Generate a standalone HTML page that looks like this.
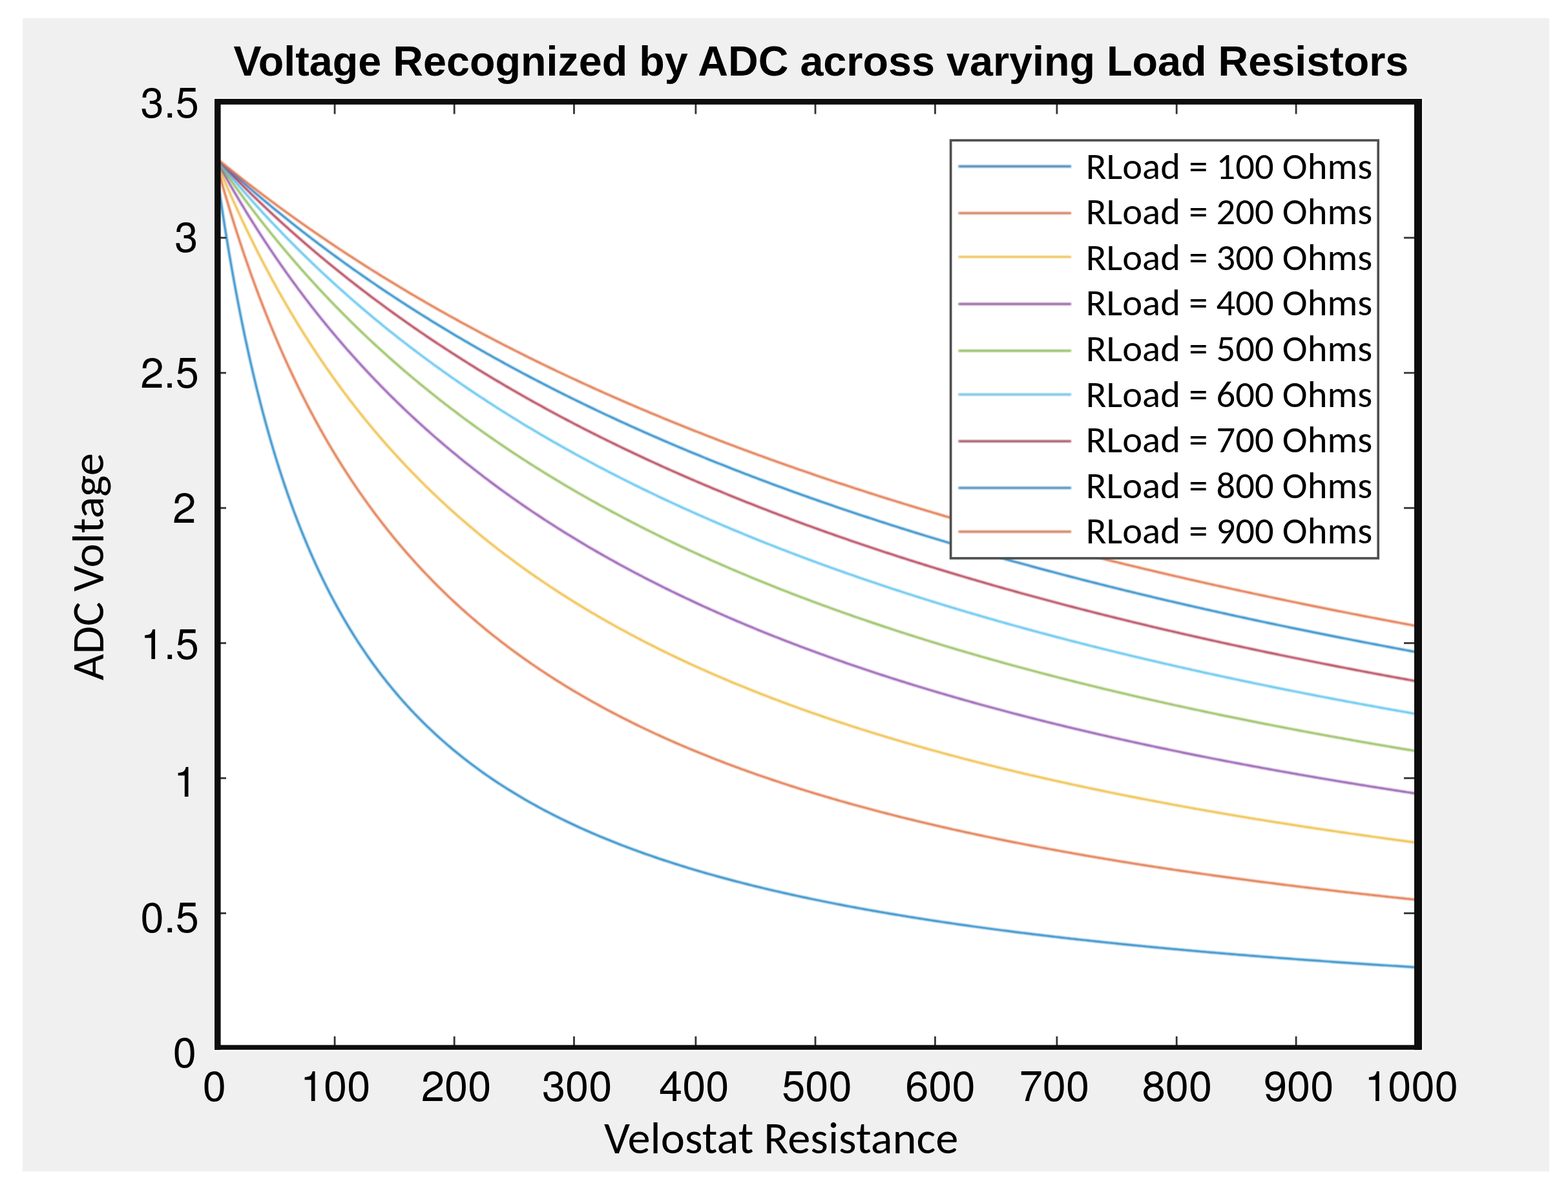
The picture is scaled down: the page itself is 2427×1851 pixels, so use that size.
<!DOCTYPE html>
<html><head><meta charset="utf-8"><title>Voltage Recognized by ADC across varying Load Resistors</title>
<style>
html,body{margin:0;padding:0;background:#fff;overflow:hidden;}
svg{display:block;}
.tk{font-family:"TeX Gyre Heros","Liberation Sans",Arial,Helvetica,sans-serif;font-size:65px;fill:#000;}
.ttl{font-family:"Liberation Sans",Arial,Helvetica,sans-serif;font-weight:bold;font-size:64.7px;fill:#000;}
.lab{font-family:Carlito,Calibri,"Liberation Sans",sans-serif;font-size:71px;font-size-adjust:cap-height 0.632;fill:#000;}
.lg{font-family:Carlito,Calibri,"Liberation Sans",sans-serif;font-size:58px;font-size-adjust:cap-height 0.632;fill:#000;}
</style></head>
<body>
<svg width="2427" height="1851" viewBox="0 0 2427 1851">
<defs>
<clipPath id="ax"><rect x="332" y="153" width="1869" height="1472"/></clipPath>
<filter id="soft" x="-1%" y="-1%" width="102%" height="102%"><feGaussianBlur stdDeviation="0.85"/></filter>
</defs>
<rect x="0" y="0" width="2427" height="1851" fill="#ffffff"/>
<rect x="35" y="28" width="2363" height="1785" fill="#f0f0f0"/>
<text class="ttl" x="1270.9" y="116.5" text-anchor="middle">Voltage Recognized by ADC across varying Load Resistors</text>
<rect x="330.5" y="151.5" width="1872" height="1475" fill="#ffffff"/>
<g clip-path="url(#ax)"><g fill="none" stroke-width="3.2" stroke-linejoin="round" stroke-linecap="butt" filter="url(#soft)">
<path d="M332.10,242.57 L332.57,246.01 L333.03,249.44 L333.50,252.84 L333.96,256.23 L334.43,259.61 L334.89,262.97 L335.36,266.31 L335.82,269.63 L336.29,272.94 L336.75,276.23 L337.22,279.50 L337.68,282.76 L338.15,286.01 L338.61,289.24 L339.08,292.45 L339.54,295.65 L340.01,298.83 L340.47,301.99 L340.94,305.15 L341.40,308.28 L341.87,311.40 L342.33,314.51 L342.80,317.60 L343.26,320.68 L343.73,323.74 L344.19,326.79 L344.66,329.83 L345.12,332.85 L345.59,335.85 L346.05,338.85 L346.52,341.82 L346.98,344.79 L347.45,347.74 L347.91,350.68 L348.38,353.60 L348.84,356.51 L349.31,359.41 L349.77,362.29 L350.24,365.16 L350.70,368.02 L351.17,370.86 L351.63,373.70 L352.10,376.52 L352.56,379.32 L353.03,382.12 L353.49,384.90 L353.96,387.67 L354.42,390.42 L354.89,393.17 L355.36,395.90 L355.82,398.62 L356.29,401.32 L356.75,404.02 L357.22,406.70 L357.68,409.38 L358.15,412.04 L358.61,414.69 L359.08,417.32 L359.54,419.95 L360.01,422.56 L360.47,425.17 L360.94,427.76 L361.40,430.34 L361.87,432.91 L362.33,435.47 L362.80,438.01 L363.26,440.55 L363.73,443.07 L364.19,445.59 L364.66,448.09 L365.12,450.59 L365.59,453.07 L366.05,455.54 L366.52,458.00 L366.98,460.46 L367.45,462.90 L367.91,465.33 L368.38,467.75 L368.84,470.16 L369.31,472.56 L370.24,477.33 L371.17,482.06 L372.10,486.76 L373.03,491.41 L373.96,496.03 L374.89,500.61 L375.82,505.15 L376.75,509.65 L377.68,514.12 L378.61,518.56 L379.54,522.96 L380.47,527.32 L381.40,531.65 L382.33,535.94 L383.26,540.20 L384.19,544.43 L385.12,548.63 L386.05,552.79 L386.98,556.92 L387.91,561.02 L388.84,565.08 L389.77,569.12 L390.70,573.13 L391.63,577.10 L392.56,581.04 L393.49,584.96 L394.42,588.85 L395.35,592.70 L396.28,596.53 L397.21,600.33 L398.14,604.10 L399.07,607.85 L400.00,611.56 L400.93,615.25 L401.87,618.92 L402.80,622.55 L403.73,626.16 L404.66,629.75 L405.59,633.30 L406.52,636.84 L407.45,640.34 L408.38,643.83 L409.31,647.29 L410.24,650.72 L411.17,654.13 L412.10,657.52 L413.03,660.88 L413.96,664.22 L414.89,667.53 L415.82,670.83 L416.75,674.10 L417.68,677.34 L418.61,680.57 L419.54,683.77 L420.47,686.96 L421.40,690.12 L422.33,693.26 L423.26,696.37 L424.19,699.47 L425.12,702.55 L426.05,705.60 L426.98,708.64 L427.91,711.66 L428.84,714.65 L429.77,717.63 L430.70,720.59 L431.63,723.52 L432.56,726.44 L433.49,729.34 L434.42,732.22 L435.35,735.09 L436.28,737.93 L437.21,740.76 L438.14,743.56 L439.07,746.36 L440.00,749.13 L440.93,751.88 L441.86,754.62 L442.79,757.34 L443.72,760.04 L444.65,762.73 L445.58,765.40 L446.51,768.06 L447.44,770.69 L448.38,773.31 L449.31,775.92 L450.24,778.51 L451.17,781.08 L452.10,783.64 L453.03,786.18 L453.96,788.71 L454.89,791.22 L455.82,793.71 L456.75,796.20 L457.68,798.66 L458.61,801.11 L459.54,803.55 L460.47,805.97 L461.40,808.38 L462.33,810.78 L463.26,813.16 L464.19,815.52 L465.12,817.88 L466.05,820.22 L466.98,822.54 L467.91,824.85 L468.84,827.15 L469.77,829.44 L470.70,831.71 L471.63,833.97 L472.56,836.22 L473.49,838.45 L474.42,840.67 L475.35,842.88 L476.28,845.08 L477.21,847.26 L478.14,849.43 L479.07,851.59 L480.00,853.74 L480.93,855.87 L481.86,858.00 L482.79,860.11 L483.72,862.21 L484.65,864.30 L485.58,866.38 L486.51,868.44 L487.44,870.50 L488.37,872.54 L489.30,874.57 L490.23,876.59 L491.16,878.60 L492.09,880.60 L493.02,882.59 L493.95,884.57 L494.88,886.54 L495.82,888.50 L496.75,890.44 L497.68,892.38 L498.61,894.31 L499.54,896.22 L500.47,898.13 L501.40,900.02 L502.33,901.91 L503.26,903.79 L504.19,905.65 L505.12,907.51 L506.05,909.36 L506.98,911.20 L507.91,913.03 L508.84,914.84 L509.77,916.65 L510.70,918.46 L511.63,920.25 L512.56,922.03 L513.49,923.80 L514.42,925.57 L515.35,927.32 L516.28,929.07 L517.21,930.81 L518.14,932.54 L521.86,939.37 L525.58,946.06 L529.30,952.63 L533.02,959.07 L536.74,965.39 L540.46,971.59 L544.19,977.67 L547.91,983.64 L551.63,989.51 L555.35,995.26 L559.07,1000.91 L562.79,1006.46 L566.51,1011.91 L570.23,1017.27 L573.95,1022.53 L577.67,1027.70 L581.39,1032.79 L585.11,1037.78 L588.84,1042.70 L592.56,1047.53 L596.28,1052.28 L600.00,1056.96 L603.72,1061.55 L607.44,1066.08 L611.16,1070.53 L614.88,1074.91 L618.60,1079.22 L622.32,1083.47 L626.04,1087.64 L629.76,1091.76 L633.48,1095.81 L637.21,1099.80 L640.93,1103.73 L644.65,1107.60 L648.37,1111.42 L652.09,1115.17 L655.81,1118.88 L659.53,1122.53 L663.25,1126.12 L666.97,1129.67 L670.69,1133.16 L674.41,1136.61 L678.13,1140.01 L681.86,1143.36 L685.58,1146.66 L689.30,1149.92 L693.02,1153.14 L696.74,1156.31 L700.46,1159.44 L704.18,1162.52 L707.90,1165.57 L711.62,1168.58 L715.34,1171.54 L719.06,1174.47 L722.78,1177.36 L726.50,1180.22 L730.23,1183.03 L733.95,1185.81 L737.67,1188.56 L741.39,1191.27 L745.11,1193.95 L748.83,1196.60 L752.55,1199.21 L756.27,1201.79 L759.99,1204.34 L763.71,1206.86 L767.43,1209.35 L771.15,1211.81 L774.88,1214.24 L778.60,1216.64 L782.32,1219.01 L786.04,1221.36 L789.76,1223.68 L793.48,1225.97 L797.20,1228.23 L800.92,1230.47 L804.64,1232.69 L808.36,1234.88 L812.08,1237.05 L815.80,1239.19 L819.52,1241.30 L823.25,1243.40 L826.97,1245.47 L830.69,1247.52 L834.41,1249.55 L838.13,1251.55 L841.85,1253.54 L845.57,1255.50 L849.29,1257.44 L853.01,1259.36 L856.73,1261.26 L860.45,1263.14 L864.17,1265.01 L867.90,1266.85 L871.62,1268.67 L875.34,1270.48 L879.06,1272.26 L882.78,1274.03 L886.50,1275.78 L890.22,1277.52 L893.94,1279.23 L897.66,1280.93 L901.38,1282.62 L905.10,1284.28 L908.82,1285.93 L912.54,1287.57 L916.27,1289.18 L919.99,1290.79 L923.71,1292.37 L927.43,1293.95 L931.15,1295.50 L934.87,1297.05 L938.59,1298.57 L942.31,1300.09 L946.03,1301.59 L949.75,1303.07 L953.47,1304.54 L957.19,1306.00 L960.92,1307.45 L964.64,1308.88 L968.36,1310.30 L972.08,1311.71 L975.80,1313.10 L979.52,1314.48 L983.24,1315.85 L986.96,1317.21 L990.68,1318.55 L994.40,1319.88 L998.12,1321.21 L1001.84,1322.52 L1005.56,1323.81 L1009.29,1325.10 L1013.01,1326.38 L1016.73,1327.64 L1020.45,1328.90 L1024.17,1330.14 L1027.89,1331.38 L1031.61,1332.60 L1035.33,1333.81 L1039.05,1335.01 L1042.77,1336.21 L1046.49,1337.39 L1050.21,1338.56 L1053.94,1339.73 L1057.66,1340.88 L1061.38,1342.03 L1065.10,1343.16 L1068.82,1344.29 L1072.54,1345.41 L1076.26,1346.51 L1079.98,1347.61 L1083.70,1348.70 L1087.42,1349.79 L1091.14,1350.86 L1094.86,1351.93 L1098.58,1352.98 L1102.31,1354.03 L1106.03,1355.07 L1109.75,1356.10 L1113.47,1357.13 L1117.19,1358.15 L1120.91,1359.15 L1124.63,1360.16 L1128.35,1361.15 L1132.07,1362.14 L1135.79,1363.12 L1139.51,1364.09 L1143.23,1365.05 L1146.96,1366.01 L1150.68,1366.96 L1154.40,1367.90 L1158.12,1368.84 L1161.84,1369.77 L1165.56,1370.69 L1169.28,1371.60 L1173.00,1372.51 L1176.72,1373.42 L1180.44,1374.31 L1184.16,1375.20 L1187.88,1376.08 L1191.60,1376.96 L1195.33,1377.83 L1199.05,1378.70 L1202.77,1379.55 L1206.49,1380.41 L1210.21,1381.25 L1213.93,1382.09 L1217.65,1382.93 L1221.37,1383.76 L1225.09,1384.58 L1228.81,1385.40 L1232.53,1386.21 L1236.25,1387.02 L1239.98,1387.82 L1243.70,1388.61 L1247.42,1389.40 L1251.14,1390.19 L1254.86,1390.97 L1258.58,1391.74 L1262.30,1392.51 L1266.02,1393.28 L1269.74,1394.04 L1273.46,1394.79 L1277.18,1395.54 L1280.90,1396.28 L1284.62,1397.02 L1288.35,1397.76 L1292.07,1398.49 L1295.79,1399.21 L1299.51,1399.93 L1303.23,1400.65 L1306.95,1401.36 L1310.67,1402.06 L1314.39,1402.77 L1318.11,1403.46 L1321.83,1404.16 L1325.55,1404.85 L1329.27,1405.53 L1333.00,1406.21 L1336.72,1406.89 L1340.44,1407.56 L1344.16,1408.23 L1347.88,1408.89 L1351.60,1409.55 L1355.32,1410.20 L1359.04,1410.85 L1362.76,1411.50 L1366.48,1412.15 L1370.20,1412.78 L1373.92,1413.42 L1377.64,1414.05 L1381.37,1414.68 L1385.09,1415.30 L1388.81,1415.92 L1392.53,1416.54 L1396.25,1417.15 L1399.97,1417.76 L1403.69,1418.37 L1407.41,1418.97 L1411.13,1419.57 L1414.85,1420.16 L1418.57,1420.76 L1422.29,1421.34 L1426.02,1421.93 L1429.74,1422.51 L1433.46,1423.09 L1437.18,1423.66 L1440.90,1424.23 L1444.62,1424.80 L1448.34,1425.37 L1452.06,1425.93 L1455.78,1426.49 L1459.50,1427.04 L1463.22,1427.59 L1466.94,1428.14 L1470.66,1428.69 L1474.39,1429.23 L1478.11,1429.77 L1481.83,1430.31 L1485.55,1430.84 L1489.27,1431.37 L1492.99,1431.90 L1496.71,1432.43 L1500.43,1432.95 L1504.15,1433.47 L1507.87,1433.99 L1511.59,1434.50 L1515.31,1435.01 L1519.04,1435.52 L1522.76,1436.02 L1526.48,1436.53 L1530.20,1437.03 L1533.92,1437.52 L1537.64,1438.02 L1541.36,1438.51 L1545.08,1439.00 L1548.80,1439.49 L1552.52,1439.97 L1556.24,1440.45 L1559.96,1440.93 L1563.68,1441.41 L1567.41,1441.88 L1571.13,1442.35 L1574.85,1442.82 L1578.57,1443.29 L1582.29,1443.75 L1586.01,1444.21 L1589.73,1444.67 L1593.45,1445.13 L1597.17,1445.59 L1600.89,1446.04 L1604.61,1446.49 L1608.33,1446.94 L1612.06,1447.38 L1615.78,1447.83 L1619.50,1448.27 L1623.22,1448.71 L1626.94,1449.14 L1630.66,1449.58 L1634.38,1450.01 L1638.10,1450.44 L1641.82,1450.87 L1645.54,1451.29 L1649.26,1451.72 L1652.98,1452.14 L1656.70,1452.56 L1660.43,1452.98 L1664.15,1453.39 L1667.87,1453.80 L1671.59,1454.22 L1675.31,1454.63 L1679.03,1455.03 L1682.75,1455.44 L1686.47,1455.84 L1690.19,1456.24 L1693.91,1456.64 L1697.63,1457.04 L1701.35,1457.44 L1705.08,1457.83 L1708.80,1458.22 L1712.52,1458.61 L1716.24,1459.00 L1719.96,1459.39 L1723.68,1459.77 L1727.40,1460.16 L1731.12,1460.54 L1734.84,1460.92 L1738.56,1461.29 L1742.28,1461.67 L1746.00,1462.04 L1749.72,1462.42 L1753.45,1462.79 L1757.17,1463.15 L1760.89,1463.52 L1764.61,1463.89 L1768.33,1464.25 L1772.05,1464.61 L1775.77,1464.97 L1779.49,1465.33 L1783.21,1465.69 L1786.93,1466.05 L1790.65,1466.40 L1794.37,1466.75 L1798.10,1467.10 L1801.82,1467.45 L1805.54,1467.80 L1809.26,1468.15 L1812.98,1468.49 L1816.70,1468.83 L1820.42,1469.17 L1824.14,1469.51 L1827.86,1469.85 L1831.58,1470.19 L1835.30,1470.53 L1839.02,1470.86 L1842.74,1471.19 L1846.47,1471.52 L1850.19,1471.85 L1853.91,1472.18 L1857.63,1472.51 L1861.35,1472.83 L1865.07,1473.16 L1868.79,1473.48 L1872.51,1473.80 L1876.23,1474.12 L1879.95,1474.44 L1883.67,1474.76 L1887.39,1475.07 L1891.12,1475.39 L1894.84,1475.70 L1898.56,1476.01 L1902.28,1476.32 L1906.00,1476.63 L1909.72,1476.94 L1913.44,1477.24 L1917.16,1477.55 L1920.88,1477.85 L1924.60,1478.16 L1928.32,1478.46 L1932.04,1478.76 L1935.76,1479.06 L1939.49,1479.35 L1943.21,1479.65 L1946.93,1479.95 L1950.65,1480.24 L1954.37,1480.53 L1958.09,1480.82 L1961.81,1481.11 L1965.53,1481.40 L1969.25,1481.69 L1972.97,1481.98 L1976.69,1482.26 L1980.41,1482.55 L1984.14,1482.83 L1987.86,1483.11 L1991.58,1483.39 L1995.30,1483.67 L1999.02,1483.95 L2002.74,1484.23 L2006.46,1484.51 L2010.18,1484.78 L2013.90,1485.06 L2017.62,1485.33 L2021.34,1485.60 L2025.06,1485.87 L2028.78,1486.14 L2032.51,1486.41 L2036.23,1486.68 L2039.95,1486.95 L2043.67,1487.21 L2047.39,1487.48 L2051.11,1487.74 L2054.83,1488.00 L2058.55,1488.27 L2062.27,1488.53 L2065.99,1488.79 L2069.71,1489.04 L2073.43,1489.30 L2077.16,1489.56 L2080.88,1489.81 L2084.60,1490.07 L2088.32,1490.32 L2092.04,1490.58 L2095.76,1490.83 L2099.48,1491.08 L2103.20,1491.33 L2106.92,1491.58 L2110.64,1491.83 L2114.36,1492.07 L2118.08,1492.32 L2121.80,1492.56 L2125.53,1492.81 L2129.25,1493.05 L2132.97,1493.29 L2136.69,1493.53 L2140.41,1493.78 L2144.13,1494.02 L2147.85,1494.25 L2151.57,1494.49 L2155.29,1494.73 L2159.01,1494.97 L2162.73,1495.20 L2166.45,1495.43 L2170.18,1495.67 L2173.90,1495.90 L2177.62,1496.13 L2181.34,1496.36 L2185.06,1496.59 L2188.78,1496.82 L2192.50,1497.05" stroke="#1F83C5"/>
<path d="M332.10,242.57 L332.57,244.29 L333.03,246.01 L333.50,247.73 L333.96,249.44 L334.43,251.14 L334.89,252.84 L335.36,254.54 L335.82,256.23 L336.29,257.92 L336.75,259.61 L337.22,261.29 L337.68,262.97 L338.15,264.64 L338.61,266.31 L339.08,267.97 L339.54,269.63 L340.01,271.29 L340.47,272.94 L340.94,274.58 L341.40,276.23 L341.87,277.87 L342.33,279.50 L342.80,281.14 L343.26,282.76 L343.73,284.39 L344.19,286.01 L344.66,287.62 L345.12,289.24 L345.59,290.84 L346.05,292.45 L346.52,294.05 L346.98,295.65 L347.45,297.24 L347.91,298.83 L348.38,300.41 L348.84,301.99 L349.31,303.57 L349.77,305.15 L350.24,306.72 L350.70,308.28 L351.17,309.85 L351.63,311.40 L352.10,312.96 L352.56,314.51 L353.03,316.06 L353.49,317.60 L353.96,319.14 L354.42,320.68 L354.89,322.21 L355.36,323.74 L355.82,325.27 L356.29,326.79 L356.75,328.31 L357.22,329.83 L357.68,331.34 L358.15,332.85 L358.61,334.35 L359.08,335.85 L359.54,337.35 L360.01,338.85 L360.47,340.34 L360.94,341.82 L361.40,343.31 L361.87,344.79 L362.33,346.27 L362.80,347.74 L363.26,349.21 L363.73,350.68 L364.19,352.14 L364.66,353.60 L365.12,355.06 L365.59,356.51 L366.05,357.96 L366.52,359.41 L366.98,360.85 L367.45,362.29 L367.91,363.73 L368.38,365.16 L368.84,366.59 L369.31,368.02 L370.24,370.86 L371.17,373.70 L372.10,376.52 L373.03,379.32 L373.96,382.12 L374.89,384.90 L375.82,387.67 L376.75,390.42 L377.68,393.17 L378.61,395.90 L379.54,398.62 L380.47,401.32 L381.40,404.02 L382.33,406.70 L383.26,409.38 L384.19,412.04 L385.12,414.69 L386.05,417.32 L386.98,419.95 L387.91,422.56 L388.84,425.17 L389.77,427.76 L390.70,430.34 L391.63,432.91 L392.56,435.47 L393.49,438.01 L394.42,440.55 L395.35,443.07 L396.28,445.59 L397.21,448.09 L398.14,450.59 L399.07,453.07 L400.00,455.54 L400.93,458.00 L401.87,460.46 L402.80,462.90 L403.73,465.33 L404.66,467.75 L405.59,470.16 L406.52,472.56 L407.45,474.95 L408.38,477.33 L409.31,479.70 L410.24,482.06 L411.17,484.42 L412.10,486.76 L413.03,489.09 L413.96,491.41 L414.89,493.72 L415.82,496.03 L416.75,498.32 L417.68,500.61 L418.61,502.88 L419.54,505.15 L420.47,507.41 L421.40,509.65 L422.33,511.89 L423.26,514.12 L424.19,516.35 L425.12,518.56 L426.05,520.76 L426.98,522.96 L427.91,525.14 L428.84,527.32 L429.77,529.49 L430.70,531.65 L431.63,533.80 L432.56,535.94 L433.49,538.08 L434.42,540.20 L435.35,542.32 L436.28,544.43 L437.21,546.53 L438.14,548.63 L439.07,550.71 L440.00,552.79 L440.93,554.86 L441.86,556.92 L442.79,558.97 L443.72,561.02 L444.65,563.05 L445.58,565.08 L446.51,567.11 L447.44,569.12 L448.38,571.13 L449.31,573.13 L450.24,575.12 L451.17,577.10 L452.10,579.08 L453.03,581.04 L453.96,583.01 L454.89,584.96 L455.82,586.91 L456.75,588.85 L457.68,590.78 L458.61,592.70 L459.54,594.62 L460.47,596.53 L461.40,598.43 L462.33,600.33 L463.26,602.22 L464.19,604.10 L465.12,605.98 L466.05,607.85 L466.98,609.71 L467.91,611.56 L468.84,613.41 L469.77,615.25 L470.70,617.09 L471.63,618.92 L472.56,620.74 L473.49,622.55 L474.42,624.36 L475.35,626.16 L476.28,627.96 L477.21,629.75 L478.14,631.53 L479.07,633.30 L480.00,635.07 L480.93,636.84 L481.86,638.59 L482.79,640.34 L483.72,642.09 L484.65,643.83 L485.58,645.56 L486.51,647.29 L487.44,649.01 L488.37,650.72 L489.30,652.43 L490.23,654.13 L491.16,655.83 L492.09,657.52 L493.02,659.20 L493.95,660.88 L494.88,662.55 L495.82,664.22 L496.75,665.88 L497.68,667.53 L498.61,669.18 L499.54,670.83 L500.47,672.46 L501.40,674.10 L502.33,675.72 L503.26,677.34 L504.19,678.96 L505.12,680.57 L506.05,682.17 L506.98,683.77 L507.91,685.37 L508.84,686.96 L509.77,688.54 L510.70,690.12 L511.63,691.69 L512.56,693.26 L513.49,694.82 L514.42,696.37 L515.35,697.93 L516.28,699.47 L517.21,701.01 L518.14,702.55 L521.86,708.64 L525.58,714.65 L529.30,720.59 L533.02,726.44 L536.74,732.22 L540.46,737.93 L544.19,743.56 L547.91,749.13 L551.63,754.62 L555.35,760.04 L559.07,765.40 L562.79,770.69 L566.51,775.92 L570.23,781.08 L573.95,786.18 L577.67,791.22 L581.39,796.20 L585.11,801.11 L588.84,805.97 L592.56,810.78 L596.28,815.52 L600.00,820.22 L603.72,824.85 L607.44,829.44 L611.16,833.97 L614.88,838.45 L618.60,842.88 L622.32,847.26 L626.04,851.59 L629.76,855.87 L633.48,860.11 L637.21,864.30 L640.93,868.44 L644.65,872.54 L648.37,876.59 L652.09,880.60 L655.81,884.57 L659.53,888.50 L663.25,892.38 L666.97,896.22 L670.69,900.02 L674.41,903.79 L678.13,907.51 L681.86,911.20 L685.58,914.84 L689.30,918.46 L693.02,922.03 L696.74,925.57 L700.46,929.07 L704.18,932.54 L707.90,935.97 L711.62,939.37 L715.34,942.73 L719.06,946.06 L722.78,949.36 L726.50,952.63 L730.23,955.87 L733.95,959.07 L737.67,962.25 L741.39,965.39 L745.11,968.51 L748.83,971.59 L752.55,974.65 L756.27,977.67 L759.99,980.67 L763.71,983.64 L767.43,986.59 L771.15,989.51 L774.88,992.40 L778.60,995.26 L782.32,998.10 L786.04,1000.91 L789.76,1003.70 L793.48,1006.46 L797.20,1009.20 L800.92,1011.91 L804.64,1014.60 L808.36,1017.27 L812.08,1019.91 L815.80,1022.53 L819.52,1025.13 L823.25,1027.70 L826.97,1030.26 L830.69,1032.79 L834.41,1035.30 L838.13,1037.78 L841.85,1040.25 L845.57,1042.70 L849.29,1045.12 L853.01,1047.53 L856.73,1049.92 L860.45,1052.28 L864.17,1054.63 L867.90,1056.96 L871.62,1059.26 L875.34,1061.55 L879.06,1063.82 L882.78,1066.08 L886.50,1068.31 L890.22,1070.53 L893.94,1072.73 L897.66,1074.91 L901.38,1077.07 L905.10,1079.22 L908.82,1081.35 L912.54,1083.47 L916.27,1085.56 L919.99,1087.64 L923.71,1089.71 L927.43,1091.76 L931.15,1093.79 L934.87,1095.81 L938.59,1097.81 L942.31,1099.80 L946.03,1101.77 L949.75,1103.73 L953.47,1105.67 L957.19,1107.60 L960.92,1109.52 L964.64,1111.42 L968.36,1113.30 L972.08,1115.17 L975.80,1117.03 L979.52,1118.88 L983.24,1120.71 L986.96,1122.53 L990.68,1124.33 L994.40,1126.12 L998.12,1127.90 L1001.84,1129.67 L1005.56,1131.42 L1009.29,1133.16 L1013.01,1134.89 L1016.73,1136.61 L1020.45,1138.31 L1024.17,1140.01 L1027.89,1141.69 L1031.61,1143.36 L1035.33,1145.02 L1039.05,1146.66 L1042.77,1148.30 L1046.49,1149.92 L1050.21,1151.53 L1053.94,1153.14 L1057.66,1154.73 L1061.38,1156.31 L1065.10,1157.88 L1068.82,1159.44 L1072.54,1160.99 L1076.26,1162.52 L1079.98,1164.05 L1083.70,1165.57 L1087.42,1167.08 L1091.14,1168.58 L1094.86,1170.06 L1098.58,1171.54 L1102.31,1173.01 L1106.03,1174.47 L1109.75,1175.92 L1113.47,1177.36 L1117.19,1178.79 L1120.91,1180.22 L1124.63,1181.63 L1128.35,1183.03 L1132.07,1184.43 L1135.79,1185.81 L1139.51,1187.19 L1143.23,1188.56 L1146.96,1189.92 L1150.68,1191.27 L1154.40,1192.62 L1158.12,1193.95 L1161.84,1195.28 L1165.56,1196.60 L1169.28,1197.91 L1173.00,1199.21 L1176.72,1200.50 L1180.44,1201.79 L1184.16,1203.07 L1187.88,1204.34 L1191.60,1205.60 L1195.33,1206.86 L1199.05,1208.11 L1202.77,1209.35 L1206.49,1210.58 L1210.21,1211.81 L1213.93,1213.03 L1217.65,1214.24 L1221.37,1215.44 L1225.09,1216.64 L1228.81,1217.83 L1232.53,1219.01 L1236.25,1220.19 L1239.98,1221.36 L1243.70,1222.52 L1247.42,1223.68 L1251.14,1224.83 L1254.86,1225.97 L1258.58,1227.11 L1262.30,1228.23 L1266.02,1229.36 L1269.74,1230.47 L1273.46,1231.59 L1277.18,1232.69 L1280.90,1233.79 L1284.62,1234.88 L1288.35,1235.97 L1292.07,1237.05 L1295.79,1238.12 L1299.51,1239.19 L1303.23,1240.25 L1306.95,1241.30 L1310.67,1242.35 L1314.39,1243.40 L1318.11,1244.44 L1321.83,1245.47 L1325.55,1246.50 L1329.27,1247.52 L1333.00,1248.54 L1336.72,1249.55 L1340.44,1250.55 L1344.16,1251.55 L1347.88,1252.55 L1351.60,1253.54 L1355.32,1254.52 L1359.04,1255.50 L1362.76,1256.47 L1366.48,1257.44 L1370.20,1258.40 L1373.92,1259.36 L1377.64,1260.31 L1381.37,1261.26 L1385.09,1262.21 L1388.81,1263.14 L1392.53,1264.08 L1396.25,1265.01 L1399.97,1265.93 L1403.69,1266.85 L1407.41,1267.76 L1411.13,1268.67 L1414.85,1269.58 L1418.57,1270.48 L1422.29,1271.37 L1426.02,1272.26 L1429.74,1273.15 L1433.46,1274.03 L1437.18,1274.91 L1440.90,1275.78 L1444.62,1276.65 L1448.34,1277.52 L1452.06,1278.38 L1455.78,1279.23 L1459.50,1280.09 L1463.22,1280.93 L1466.94,1281.78 L1470.66,1282.62 L1474.39,1283.45 L1478.11,1284.28 L1481.83,1285.11 L1485.55,1285.93 L1489.27,1286.75 L1492.99,1287.57 L1496.71,1288.38 L1500.43,1289.18 L1504.15,1289.99 L1507.87,1290.79 L1511.59,1291.58 L1515.31,1292.37 L1519.04,1293.16 L1522.76,1293.95 L1526.48,1294.73 L1530.20,1295.50 L1533.92,1296.28 L1537.64,1297.05 L1541.36,1297.81 L1545.08,1298.57 L1548.80,1299.33 L1552.52,1300.09 L1556.24,1300.84 L1559.96,1301.59 L1563.68,1302.33 L1567.41,1303.07 L1571.13,1303.81 L1574.85,1304.54 L1578.57,1305.28 L1582.29,1306.00 L1586.01,1306.73 L1589.73,1307.45 L1593.45,1308.17 L1597.17,1308.88 L1600.89,1309.59 L1604.61,1310.30 L1608.33,1311.00 L1612.06,1311.71 L1615.78,1312.40 L1619.50,1313.10 L1623.22,1313.79 L1626.94,1314.48 L1630.66,1315.17 L1634.38,1315.85 L1638.10,1316.53 L1641.82,1317.21 L1645.54,1317.88 L1649.26,1318.55 L1652.98,1319.22 L1656.70,1319.88 L1660.43,1320.55 L1664.15,1321.21 L1667.87,1321.86 L1671.59,1322.52 L1675.31,1323.17 L1679.03,1323.81 L1682.75,1324.46 L1686.47,1325.10 L1690.19,1325.74 L1693.91,1326.38 L1697.63,1327.01 L1701.35,1327.64 L1705.08,1328.27 L1708.80,1328.90 L1712.52,1329.52 L1716.24,1330.14 L1719.96,1330.76 L1723.68,1331.38 L1727.40,1331.99 L1731.12,1332.60 L1734.84,1333.21 L1738.56,1333.81 L1742.28,1334.41 L1746.00,1335.01 L1749.72,1335.61 L1753.45,1336.21 L1757.17,1336.80 L1760.89,1337.39 L1764.61,1337.98 L1768.33,1338.56 L1772.05,1339.15 L1775.77,1339.73 L1779.49,1340.31 L1783.21,1340.88 L1786.93,1341.46 L1790.65,1342.03 L1794.37,1342.60 L1798.10,1343.16 L1801.82,1343.73 L1805.54,1344.29 L1809.26,1344.85 L1812.98,1345.41 L1816.70,1345.96 L1820.42,1346.51 L1824.14,1347.07 L1827.86,1347.61 L1831.58,1348.16 L1835.30,1348.70 L1839.02,1349.25 L1842.74,1349.79 L1846.47,1350.32 L1850.19,1350.86 L1853.91,1351.39 L1857.63,1351.93 L1861.35,1352.46 L1865.07,1352.98 L1868.79,1353.51 L1872.51,1354.03 L1876.23,1354.55 L1879.95,1355.07 L1883.67,1355.59 L1887.39,1356.10 L1891.12,1356.62 L1894.84,1357.13 L1898.56,1357.64 L1902.28,1358.15 L1906.00,1358.65 L1909.72,1359.15 L1913.44,1359.66 L1917.16,1360.16 L1920.88,1360.65 L1924.60,1361.15 L1928.32,1361.64 L1932.04,1362.14 L1935.76,1362.63 L1939.49,1363.12 L1943.21,1363.60 L1946.93,1364.09 L1950.65,1364.57 L1954.37,1365.05 L1958.09,1365.53 L1961.81,1366.01 L1965.53,1366.48 L1969.25,1366.96 L1972.97,1367.43 L1976.69,1367.90 L1980.41,1368.37 L1984.14,1368.84 L1987.86,1369.30 L1991.58,1369.77 L1995.30,1370.23 L1999.02,1370.69 L2002.74,1371.15 L2006.46,1371.60 L2010.18,1372.06 L2013.90,1372.51 L2017.62,1372.97 L2021.34,1373.42 L2025.06,1373.86 L2028.78,1374.31 L2032.51,1374.76 L2036.23,1375.20 L2039.95,1375.64 L2043.67,1376.08 L2047.39,1376.52 L2051.11,1376.96 L2054.83,1377.40 L2058.55,1377.83 L2062.27,1378.26 L2065.99,1378.70 L2069.71,1379.13 L2073.43,1379.55 L2077.16,1379.98 L2080.88,1380.41 L2084.60,1380.83 L2088.32,1381.25 L2092.04,1381.67 L2095.76,1382.09 L2099.48,1382.51 L2103.20,1382.93 L2106.92,1383.34 L2110.64,1383.76 L2114.36,1384.17 L2118.08,1384.58 L2121.80,1384.99 L2125.53,1385.40 L2129.25,1385.81 L2132.97,1386.21 L2136.69,1386.61 L2140.41,1387.02 L2144.13,1387.42 L2147.85,1387.82 L2151.57,1388.22 L2155.29,1388.61 L2159.01,1389.01 L2162.73,1389.40 L2166.45,1389.80 L2170.18,1390.19 L2173.90,1390.58 L2177.62,1390.97 L2181.34,1391.36 L2185.06,1391.74 L2188.78,1392.13 L2192.50,1392.51" stroke="#DF6D3C"/>
<path d="M332.10,242.57 L332.57,243.72 L333.03,244.87 L333.50,246.01 L333.96,247.16 L334.43,248.30 L334.89,249.44 L335.36,250.57 L335.82,251.71 L336.29,252.84 L336.75,253.98 L337.22,255.11 L337.68,256.23 L338.15,257.36 L338.61,258.49 L339.08,259.61 L339.54,260.73 L340.01,261.85 L340.47,262.97 L340.94,264.08 L341.40,265.19 L341.87,266.31 L342.33,267.42 L342.80,268.52 L343.26,269.63 L343.73,270.73 L344.19,271.84 L344.66,272.94 L345.12,274.04 L345.59,275.13 L346.05,276.23 L346.52,277.32 L346.98,278.41 L347.45,279.50 L347.91,280.59 L348.38,281.68 L348.84,282.76 L349.31,283.85 L349.77,284.93 L350.24,286.01 L350.70,287.09 L351.17,288.16 L351.63,289.24 L352.10,290.31 L352.56,291.38 L353.03,292.45 L353.49,293.52 L353.96,294.58 L354.42,295.65 L354.89,296.71 L355.36,297.77 L355.82,298.83 L356.29,299.89 L356.75,300.94 L357.22,301.99 L357.68,303.05 L358.15,304.10 L358.61,305.15 L359.08,306.19 L359.54,307.24 L360.01,308.28 L360.47,309.33 L360.94,310.37 L361.40,311.40 L361.87,312.44 L362.33,313.48 L362.80,314.51 L363.26,315.54 L363.73,316.57 L364.19,317.60 L364.66,318.63 L365.12,319.66 L365.59,320.68 L366.05,321.70 L366.52,322.72 L366.98,323.74 L367.45,324.76 L367.91,325.78 L368.38,326.79 L368.84,327.81 L369.31,328.82 L370.24,330.84 L371.17,332.85 L372.10,334.85 L373.03,336.85 L373.96,338.85 L374.89,340.83 L375.82,342.81 L376.75,344.79 L377.68,346.76 L378.61,348.72 L379.54,350.68 L380.47,352.63 L381.40,354.57 L382.33,356.51 L383.26,358.44 L384.19,360.37 L385.12,362.29 L386.05,364.21 L386.98,366.12 L387.91,368.02 L388.84,369.92 L389.77,371.81 L390.70,373.70 L391.63,375.58 L392.56,377.45 L393.49,379.32 L394.42,381.19 L395.35,383.04 L396.28,384.90 L397.21,386.74 L398.14,388.59 L399.07,390.42 L400.00,392.25 L400.93,394.08 L401.87,395.90 L402.80,397.71 L403.73,399.52 L404.66,401.32 L405.59,403.12 L406.52,404.92 L407.45,406.70 L408.38,408.49 L409.31,410.26 L410.24,412.04 L411.17,413.80 L412.10,415.57 L413.03,417.32 L413.96,419.07 L414.89,420.82 L415.82,422.56 L416.75,424.30 L417.68,426.03 L418.61,427.76 L419.54,429.48 L420.47,431.20 L421.40,432.91 L422.33,434.61 L423.26,436.32 L424.19,438.01 L425.12,439.70 L426.05,441.39 L426.98,443.07 L427.91,444.75 L428.84,446.42 L429.77,448.09 L430.70,449.76 L431.63,451.42 L432.56,453.07 L433.49,454.72 L434.42,456.36 L435.35,458.00 L436.28,459.64 L437.21,461.27 L438.14,462.90 L439.07,464.52 L440.00,466.14 L440.93,467.75 L441.86,469.36 L442.79,470.96 L443.72,472.56 L444.65,474.15 L445.58,475.75 L446.51,477.33 L447.44,478.91 L448.38,480.49 L449.31,482.06 L450.24,483.63 L451.17,485.20 L452.10,486.76 L453.03,488.31 L453.96,489.86 L454.89,491.41 L455.82,492.95 L456.75,494.49 L457.68,496.03 L458.61,497.56 L459.54,499.09 L460.47,500.61 L461.40,502.13 L462.33,503.64 L463.26,505.15 L464.19,506.66 L465.12,508.16 L466.05,509.65 L466.98,511.15 L467.91,512.64 L468.84,514.12 L469.77,515.61 L470.70,517.08 L471.63,518.56 L472.56,520.03 L473.49,521.49 L474.42,522.96 L475.35,524.41 L476.28,525.87 L477.21,527.32 L478.14,528.77 L479.07,530.21 L480.00,531.65 L480.93,533.08 L481.86,534.51 L482.79,535.94 L483.72,537.37 L484.65,538.79 L485.58,540.20 L486.51,541.62 L487.44,543.03 L488.37,544.43 L489.30,545.83 L490.23,547.23 L491.16,548.63 L492.09,550.02 L493.02,551.40 L493.95,552.79 L494.88,554.17 L495.82,555.55 L496.75,556.92 L497.68,558.29 L498.61,559.65 L499.54,561.02 L500.47,562.38 L501.40,563.73 L502.33,565.08 L503.26,566.43 L504.19,567.78 L505.12,569.12 L506.05,570.46 L506.98,571.79 L507.91,573.13 L508.84,574.45 L509.77,575.78 L510.70,577.10 L511.63,578.42 L512.56,579.73 L513.49,581.04 L514.42,582.35 L515.35,583.66 L516.28,584.96 L517.21,586.26 L518.14,587.55 L521.86,592.70 L525.58,597.80 L529.30,602.85 L533.02,607.85 L536.74,612.80 L540.46,617.70 L544.19,622.55 L547.91,627.36 L551.63,632.12 L555.35,636.84 L559.07,641.51 L562.79,646.14 L566.51,650.72 L570.23,655.26 L573.95,659.76 L577.67,664.22 L581.39,668.63 L585.11,673.01 L588.84,677.34 L592.56,681.64 L596.28,685.90 L600.00,690.12 L603.72,694.30 L607.44,698.44 L611.16,702.55 L614.88,706.62 L618.60,710.65 L622.32,714.65 L626.04,718.62 L629.76,722.55 L633.48,726.44 L637.21,730.31 L640.93,734.13 L644.65,737.93 L648.37,741.69 L652.09,745.43 L655.81,749.13 L659.53,752.80 L663.25,756.44 L666.97,760.04 L670.69,763.62 L674.41,767.17 L678.13,770.69 L681.86,774.18 L685.58,777.65 L689.30,781.08 L693.02,784.49 L696.74,787.87 L700.46,791.22 L704.18,794.54 L707.90,797.84 L711.62,801.11 L715.34,804.36 L719.06,807.58 L722.78,810.78 L726.50,813.95 L730.23,817.09 L733.95,820.22 L737.67,823.31 L741.39,826.39 L745.11,829.44 L748.83,832.46 L752.55,835.47 L756.27,838.45 L759.99,841.41 L763.71,844.35 L767.43,847.26 L771.15,850.15 L774.88,853.02 L778.60,855.87 L782.32,858.70 L786.04,861.51 L789.76,864.30 L793.48,867.06 L797.20,869.81 L800.92,872.54 L804.64,875.25 L808.36,877.93 L812.08,880.60 L815.80,883.25 L819.52,885.88 L823.25,888.50 L826.97,891.09 L830.69,893.66 L834.41,896.22 L838.13,898.76 L841.85,901.28 L845.57,903.79 L849.29,906.27 L853.01,908.74 L856.73,911.20 L860.45,913.63 L864.17,916.05 L867.90,918.46 L871.62,920.84 L875.34,923.21 L879.06,925.57 L882.78,927.91 L886.50,930.23 L890.22,932.54 L893.94,934.83 L897.66,937.11 L901.38,939.37 L905.10,941.61 L908.82,943.85 L912.54,946.06 L916.27,948.27 L919.99,950.46 L923.71,952.63 L927.43,954.79 L931.15,956.94 L934.87,959.07 L938.59,961.19 L942.31,963.30 L946.03,965.39 L949.75,967.47 L953.47,969.54 L957.19,971.59 L960.92,973.63 L964.64,975.66 L968.36,977.67 L972.08,979.68 L975.80,981.67 L979.52,983.64 L983.24,985.61 L986.96,987.56 L990.68,989.51 L994.40,991.44 L998.12,993.35 L1001.84,995.26 L1005.56,997.15 L1009.29,999.04 L1013.01,1000.91 L1016.73,1002.77 L1020.45,1004.62 L1024.17,1006.46 L1027.89,1008.29 L1031.61,1010.11 L1035.33,1011.91 L1039.05,1013.71 L1042.77,1015.49 L1046.49,1017.27 L1050.21,1019.03 L1053.94,1020.79 L1057.66,1022.53 L1061.38,1024.27 L1065.10,1025.99 L1068.82,1027.70 L1072.54,1029.41 L1076.26,1031.10 L1079.98,1032.79 L1083.70,1034.46 L1087.42,1036.13 L1091.14,1037.78 L1094.86,1039.43 L1098.58,1041.07 L1102.31,1042.70 L1106.03,1044.32 L1109.75,1045.93 L1113.47,1047.53 L1117.19,1049.12 L1120.91,1050.71 L1124.63,1052.28 L1128.35,1053.85 L1132.07,1055.41 L1135.79,1056.96 L1139.51,1058.50 L1143.23,1060.03 L1146.96,1061.55 L1150.68,1063.07 L1154.40,1064.58 L1158.12,1066.08 L1161.84,1067.57 L1165.56,1069.05 L1169.28,1070.53 L1173.00,1072.00 L1176.72,1073.46 L1180.44,1074.91 L1184.16,1076.35 L1187.88,1077.79 L1191.60,1079.22 L1195.33,1080.64 L1199.05,1082.06 L1202.77,1083.47 L1206.49,1084.87 L1210.21,1086.26 L1213.93,1087.64 L1217.65,1089.02 L1221.37,1090.39 L1225.09,1091.76 L1228.81,1093.12 L1232.53,1094.47 L1236.25,1095.81 L1239.98,1097.15 L1243.70,1098.48 L1247.42,1099.80 L1251.14,1101.12 L1254.86,1102.43 L1258.58,1103.73 L1262.30,1105.03 L1266.02,1106.32 L1269.74,1107.60 L1273.46,1108.88 L1277.18,1110.15 L1280.90,1111.42 L1284.62,1112.67 L1288.35,1113.93 L1292.07,1115.17 L1295.79,1116.41 L1299.51,1117.65 L1303.23,1118.88 L1306.95,1120.10 L1310.67,1121.32 L1314.39,1122.53 L1318.11,1123.73 L1321.83,1124.93 L1325.55,1126.12 L1329.27,1127.31 L1333.00,1128.49 L1336.72,1129.67 L1340.44,1130.84 L1344.16,1132.00 L1347.88,1133.16 L1351.60,1134.32 L1355.32,1135.47 L1359.04,1136.61 L1362.76,1137.75 L1366.48,1138.88 L1370.20,1140.01 L1373.92,1141.13 L1377.64,1142.25 L1381.37,1143.36 L1385.09,1144.46 L1388.81,1145.57 L1392.53,1146.66 L1396.25,1147.75 L1399.97,1148.84 L1403.69,1149.92 L1407.41,1151.00 L1411.13,1152.07 L1414.85,1153.14 L1418.57,1154.20 L1422.29,1155.26 L1426.02,1156.31 L1429.74,1157.36 L1433.46,1158.40 L1437.18,1159.44 L1440.90,1160.47 L1444.62,1161.50 L1448.34,1162.52 L1452.06,1163.54 L1455.78,1164.56 L1459.50,1165.57 L1463.22,1166.58 L1466.94,1167.58 L1470.66,1168.58 L1474.39,1169.57 L1478.11,1170.56 L1481.83,1171.54 L1485.55,1172.52 L1489.27,1173.50 L1492.99,1174.47 L1496.71,1175.44 L1500.43,1176.40 L1504.15,1177.36 L1507.87,1178.32 L1511.59,1179.27 L1515.31,1180.22 L1519.04,1181.16 L1522.76,1182.10 L1526.48,1183.03 L1530.20,1183.96 L1533.92,1184.89 L1537.64,1185.81 L1541.36,1186.73 L1545.08,1187.65 L1548.80,1188.56 L1552.52,1189.47 L1556.24,1190.37 L1559.96,1191.27 L1563.68,1192.17 L1567.41,1193.06 L1571.13,1193.95 L1574.85,1194.84 L1578.57,1195.72 L1582.29,1196.60 L1586.01,1197.47 L1589.73,1198.34 L1593.45,1199.21 L1597.17,1200.07 L1600.89,1200.93 L1604.61,1201.79 L1608.33,1202.64 L1612.06,1203.49 L1615.78,1204.34 L1619.50,1205.18 L1623.22,1206.02 L1626.94,1206.86 L1630.66,1207.69 L1634.38,1208.52 L1638.10,1209.35 L1641.82,1210.17 L1645.54,1210.99 L1649.26,1211.81 L1652.98,1212.62 L1656.70,1213.43 L1660.43,1214.24 L1664.15,1215.04 L1667.87,1215.84 L1671.59,1216.64 L1675.31,1217.43 L1679.03,1218.22 L1682.75,1219.01 L1686.47,1219.80 L1690.19,1220.58 L1693.91,1221.36 L1697.63,1222.13 L1701.35,1222.91 L1705.08,1223.68 L1708.80,1224.44 L1712.52,1225.21 L1716.24,1225.97 L1719.96,1226.73 L1723.68,1227.48 L1727.40,1228.23 L1731.12,1228.98 L1734.84,1229.73 L1738.56,1230.47 L1742.28,1231.22 L1746.00,1231.95 L1749.72,1232.69 L1753.45,1233.42 L1757.17,1234.15 L1760.89,1234.88 L1764.61,1235.60 L1768.33,1236.33 L1772.05,1237.05 L1775.77,1237.76 L1779.49,1238.48 L1783.21,1239.19 L1786.93,1239.90 L1790.65,1240.60 L1794.37,1241.30 L1798.10,1242.01 L1801.82,1242.70 L1805.54,1243.40 L1809.26,1244.09 L1812.98,1244.78 L1816.70,1245.47 L1820.42,1246.16 L1824.14,1246.84 L1827.86,1247.52 L1831.58,1248.20 L1835.30,1248.87 L1839.02,1249.55 L1842.74,1250.22 L1846.47,1250.89 L1850.19,1251.55 L1853.91,1252.22 L1857.63,1252.88 L1861.35,1253.54 L1865.07,1254.19 L1868.79,1254.85 L1872.51,1255.50 L1876.23,1256.15 L1879.95,1256.79 L1883.67,1257.44 L1887.39,1258.08 L1891.12,1258.72 L1894.84,1259.36 L1898.56,1260.00 L1902.28,1260.63 L1906.00,1261.26 L1909.72,1261.89 L1913.44,1262.52 L1917.16,1263.14 L1920.88,1263.77 L1924.60,1264.39 L1928.32,1265.01 L1932.04,1265.62 L1935.76,1266.24 L1939.49,1266.85 L1943.21,1267.46 L1946.93,1268.07 L1950.65,1268.67 L1954.37,1269.28 L1958.09,1269.88 L1961.81,1270.48 L1965.53,1271.08 L1969.25,1271.67 L1972.97,1272.26 L1976.69,1272.86 L1980.41,1273.45 L1984.14,1274.03 L1987.86,1274.62 L1991.58,1275.20 L1995.30,1275.78 L1999.02,1276.36 L2002.74,1276.94 L2006.46,1277.52 L2010.18,1278.09 L2013.90,1278.66 L2017.62,1279.23 L2021.34,1279.80 L2025.06,1280.37 L2028.78,1280.93 L2032.51,1281.50 L2036.23,1282.06 L2039.95,1282.62 L2043.67,1283.17 L2047.39,1283.73 L2051.11,1284.28 L2054.83,1284.83 L2058.55,1285.38 L2062.27,1285.93 L2065.99,1286.48 L2069.71,1287.02 L2073.43,1287.57 L2077.16,1288.11 L2080.88,1288.65 L2084.60,1289.18 L2088.32,1289.72 L2092.04,1290.25 L2095.76,1290.79 L2099.48,1291.32 L2103.20,1291.85 L2106.92,1292.37 L2110.64,1292.90 L2114.36,1293.42 L2118.08,1293.95 L2121.80,1294.47 L2125.53,1294.99 L2129.25,1295.50 L2132.97,1296.02 L2136.69,1296.53 L2140.41,1297.05 L2144.13,1297.56 L2147.85,1298.07 L2151.57,1298.57 L2155.29,1299.08 L2159.01,1299.58 L2162.73,1300.09 L2166.45,1300.59 L2170.18,1301.09 L2173.90,1301.59 L2177.62,1302.08 L2181.34,1302.58 L2185.06,1303.07 L2188.78,1303.56 L2192.50,1304.06" stroke="#EFBA3B"/>
<path d="M332.10,242.57 L332.57,243.43 L333.03,244.29 L333.50,245.15 L333.96,246.01 L334.43,246.87 L334.89,247.73 L335.36,248.58 L335.82,249.44 L336.29,250.29 L336.75,251.14 L337.22,251.99 L337.68,252.84 L338.15,253.69 L338.61,254.54 L339.08,255.39 L339.54,256.23 L340.01,257.08 L340.47,257.92 L340.94,258.77 L341.40,259.61 L341.87,260.45 L342.33,261.29 L342.80,262.13 L343.26,262.97 L343.73,263.80 L344.19,264.64 L344.66,265.47 L345.12,266.31 L345.59,267.14 L346.05,267.97 L346.52,268.80 L346.98,269.63 L347.45,270.46 L347.91,271.29 L348.38,272.11 L348.84,272.94 L349.31,273.76 L349.77,274.58 L350.24,275.41 L350.70,276.23 L351.17,277.05 L351.63,277.87 L352.10,278.69 L352.56,279.50 L353.03,280.32 L353.49,281.14 L353.96,281.95 L354.42,282.76 L354.89,283.58 L355.36,284.39 L355.82,285.20 L356.29,286.01 L356.75,286.82 L357.22,287.62 L357.68,288.43 L358.15,289.24 L358.61,290.04 L359.08,290.84 L359.54,291.65 L360.01,292.45 L360.47,293.25 L360.94,294.05 L361.40,294.85 L361.87,295.65 L362.33,296.44 L362.80,297.24 L363.26,298.03 L363.73,298.83 L364.19,299.62 L364.66,300.41 L365.12,301.20 L365.59,301.99 L366.05,302.78 L366.52,303.57 L366.98,304.36 L367.45,305.15 L367.91,305.93 L368.38,306.72 L368.84,307.50 L369.31,308.28 L370.24,309.85 L371.17,311.40 L372.10,312.96 L373.03,314.51 L373.96,316.06 L374.89,317.60 L375.82,319.14 L376.75,320.68 L377.68,322.21 L378.61,323.74 L379.54,325.27 L380.47,326.79 L381.40,328.31 L382.33,329.83 L383.26,331.34 L384.19,332.85 L385.12,334.35 L386.05,335.85 L386.98,337.35 L387.91,338.85 L388.84,340.34 L389.77,341.82 L390.70,343.31 L391.63,344.79 L392.56,346.27 L393.49,347.74 L394.42,349.21 L395.35,350.68 L396.28,352.14 L397.21,353.60 L398.14,355.06 L399.07,356.51 L400.00,357.96 L400.93,359.41 L401.87,360.85 L402.80,362.29 L403.73,363.73 L404.66,365.16 L405.59,366.59 L406.52,368.02 L407.45,369.44 L408.38,370.86 L409.31,372.28 L410.24,373.70 L411.17,375.11 L412.10,376.52 L413.03,377.92 L413.96,379.32 L414.89,380.72 L415.82,382.12 L416.75,383.51 L417.68,384.90 L418.61,386.28 L419.54,387.67 L420.47,389.04 L421.40,390.42 L422.33,391.79 L423.26,393.17 L424.19,394.53 L425.12,395.90 L426.05,397.26 L426.98,398.62 L427.91,399.97 L428.84,401.32 L429.77,402.67 L430.70,404.02 L431.63,405.36 L432.56,406.70 L433.49,408.04 L434.42,409.38 L435.35,410.71 L436.28,412.04 L437.21,413.36 L438.14,414.69 L439.07,416.01 L440.00,417.32 L440.93,418.64 L441.86,419.95 L442.79,421.26 L443.72,422.56 L444.65,423.87 L445.58,425.17 L446.51,426.46 L447.44,427.76 L448.38,429.05 L449.31,430.34 L450.24,431.62 L451.17,432.91 L452.10,434.19 L453.03,435.47 L453.96,436.74 L454.89,438.01 L455.82,439.28 L456.75,440.55 L457.68,441.81 L458.61,443.07 L459.54,444.33 L460.47,445.59 L461.40,446.84 L462.33,448.09 L463.26,449.34 L464.19,450.59 L465.12,451.83 L466.05,453.07 L466.98,454.31 L467.91,455.54 L468.84,456.77 L469.77,458.00 L470.70,459.23 L471.63,460.46 L472.56,461.68 L473.49,462.90 L474.42,464.11 L475.35,465.33 L476.28,466.54 L477.21,467.75 L478.14,468.96 L479.07,470.16 L480.00,471.36 L480.93,472.56 L481.86,473.76 L482.79,474.95 L483.72,476.14 L484.65,477.33 L485.58,478.52 L486.51,479.70 L487.44,480.88 L488.37,482.06 L489.30,483.24 L490.23,484.42 L491.16,485.59 L492.09,486.76 L493.02,487.92 L493.95,489.09 L494.88,490.25 L495.82,491.41 L496.75,492.57 L497.68,493.72 L498.61,494.88 L499.54,496.03 L500.47,497.18 L501.40,498.32 L502.33,499.47 L503.26,500.61 L504.19,501.75 L505.12,502.88 L506.05,504.02 L506.98,505.15 L507.91,506.28 L508.84,507.41 L509.77,508.53 L510.70,509.65 L511.63,510.78 L512.56,511.89 L513.49,513.01 L514.42,514.12 L515.35,515.24 L516.28,516.35 L517.21,517.45 L518.14,518.56 L521.86,522.96 L525.58,527.32 L529.30,531.65 L533.02,535.94 L536.74,540.20 L540.46,544.43 L544.19,548.63 L547.91,552.79 L551.63,556.92 L555.35,561.02 L559.07,565.08 L562.79,569.12 L566.51,573.13 L570.23,577.10 L573.95,581.04 L577.67,584.96 L581.39,588.85 L585.11,592.70 L588.84,596.53 L592.56,600.33 L596.28,604.10 L600.00,607.85 L603.72,611.56 L607.44,615.25 L611.16,618.92 L614.88,622.55 L618.60,626.16 L622.32,629.75 L626.04,633.30 L629.76,636.84 L633.48,640.34 L637.21,643.83 L640.93,647.29 L644.65,650.72 L648.37,654.13 L652.09,657.52 L655.81,660.88 L659.53,664.22 L663.25,667.53 L666.97,670.83 L670.69,674.10 L674.41,677.34 L678.13,680.57 L681.86,683.77 L685.58,686.96 L689.30,690.12 L693.02,693.26 L696.74,696.37 L700.46,699.47 L704.18,702.55 L707.90,705.60 L711.62,708.64 L715.34,711.66 L719.06,714.65 L722.78,717.63 L726.50,720.59 L730.23,723.52 L733.95,726.44 L737.67,729.34 L741.39,732.22 L745.11,735.09 L748.83,737.93 L752.55,740.76 L756.27,743.56 L759.99,746.36 L763.71,749.13 L767.43,751.88 L771.15,754.62 L774.88,757.34 L778.60,760.04 L782.32,762.73 L786.04,765.40 L789.76,768.06 L793.48,770.69 L797.20,773.31 L800.92,775.92 L804.64,778.51 L808.36,781.08 L812.08,783.64 L815.80,786.18 L819.52,788.71 L823.25,791.22 L826.97,793.71 L830.69,796.20 L834.41,798.66 L838.13,801.11 L841.85,803.55 L845.57,805.97 L849.29,808.38 L853.01,810.78 L856.73,813.16 L860.45,815.52 L864.17,817.88 L867.90,820.22 L871.62,822.54 L875.34,824.85 L879.06,827.15 L882.78,829.44 L886.50,831.71 L890.22,833.97 L893.94,836.22 L897.66,838.45 L901.38,840.67 L905.10,842.88 L908.82,845.08 L912.54,847.26 L916.27,849.43 L919.99,851.59 L923.71,853.74 L927.43,855.87 L931.15,858.00 L934.87,860.11 L938.59,862.21 L942.31,864.30 L946.03,866.38 L949.75,868.44 L953.47,870.50 L957.19,872.54 L960.92,874.57 L964.64,876.59 L968.36,878.60 L972.08,880.60 L975.80,882.59 L979.52,884.57 L983.24,886.54 L986.96,888.50 L990.68,890.44 L994.40,892.38 L998.12,894.31 L1001.84,896.22 L1005.56,898.13 L1009.29,900.02 L1013.01,901.91 L1016.73,903.79 L1020.45,905.65 L1024.17,907.51 L1027.89,909.36 L1031.61,911.20 L1035.33,913.03 L1039.05,914.84 L1042.77,916.65 L1046.49,918.46 L1050.21,920.25 L1053.94,922.03 L1057.66,923.80 L1061.38,925.57 L1065.10,927.32 L1068.82,929.07 L1072.54,930.81 L1076.26,932.54 L1079.98,934.26 L1083.70,935.97 L1087.42,937.67 L1091.14,939.37 L1094.86,941.05 L1098.58,942.73 L1102.31,944.40 L1106.03,946.06 L1109.75,947.72 L1113.47,949.36 L1117.19,951.00 L1120.91,952.63 L1124.63,954.25 L1128.35,955.87 L1132.07,957.47 L1135.79,959.07 L1139.51,960.66 L1143.23,962.25 L1146.96,963.82 L1150.68,965.39 L1154.40,966.95 L1158.12,968.51 L1161.84,970.05 L1165.56,971.59 L1169.28,973.12 L1173.00,974.65 L1176.72,976.16 L1180.44,977.67 L1184.16,979.18 L1187.88,980.67 L1191.60,982.16 L1195.33,983.64 L1199.05,985.12 L1202.77,986.59 L1206.49,988.05 L1210.21,989.51 L1213.93,990.95 L1217.65,992.40 L1221.37,993.83 L1225.09,995.26 L1228.81,996.68 L1232.53,998.10 L1236.25,999.51 L1239.98,1000.91 L1243.70,1002.31 L1247.42,1003.70 L1251.14,1005.08 L1254.86,1006.46 L1258.58,1007.83 L1262.30,1009.20 L1266.02,1010.56 L1269.74,1011.91 L1273.46,1013.26 L1277.18,1014.60 L1280.90,1015.94 L1284.62,1017.27 L1288.35,1018.59 L1292.07,1019.91 L1295.79,1021.22 L1299.51,1022.53 L1303.23,1023.83 L1306.95,1025.13 L1310.67,1026.42 L1314.39,1027.70 L1318.11,1028.98 L1321.83,1030.26 L1325.55,1031.52 L1329.27,1032.79 L1333.00,1034.04 L1336.72,1035.30 L1340.44,1036.54 L1344.16,1037.78 L1347.88,1039.02 L1351.60,1040.25 L1355.32,1041.48 L1359.04,1042.70 L1362.76,1043.91 L1366.48,1045.12 L1370.20,1046.33 L1373.92,1047.53 L1377.64,1048.73 L1381.37,1049.92 L1385.09,1051.10 L1388.81,1052.28 L1392.53,1053.46 L1396.25,1054.63 L1399.97,1055.79 L1403.69,1056.96 L1407.41,1058.11 L1411.13,1059.26 L1414.85,1060.41 L1418.57,1061.55 L1422.29,1062.69 L1426.02,1063.82 L1429.74,1064.95 L1433.46,1066.08 L1437.18,1067.20 L1440.90,1068.31 L1444.62,1069.42 L1448.34,1070.53 L1452.06,1071.63 L1455.78,1072.73 L1459.50,1073.82 L1463.22,1074.91 L1466.94,1075.99 L1470.66,1077.07 L1474.39,1078.15 L1478.11,1079.22 L1481.83,1080.29 L1485.55,1081.35 L1489.27,1082.41 L1492.99,1083.47 L1496.71,1084.52 L1500.43,1085.56 L1504.15,1086.61 L1507.87,1087.64 L1511.59,1088.68 L1515.31,1089.71 L1519.04,1090.74 L1522.76,1091.76 L1526.48,1092.78 L1530.20,1093.79 L1533.92,1094.80 L1537.64,1095.81 L1541.36,1096.81 L1545.08,1097.81 L1548.80,1098.81 L1552.52,1099.80 L1556.24,1100.79 L1559.96,1101.77 L1563.68,1102.75 L1567.41,1103.73 L1571.13,1104.70 L1574.85,1105.67 L1578.57,1106.64 L1582.29,1107.60 L1586.01,1108.56 L1589.73,1109.52 L1593.45,1110.47 L1597.17,1111.42 L1600.89,1112.36 L1604.61,1113.30 L1608.33,1114.24 L1612.06,1115.17 L1615.78,1116.10 L1619.50,1117.03 L1623.22,1117.96 L1626.94,1118.88 L1630.66,1119.79 L1634.38,1120.71 L1638.10,1121.62 L1641.82,1122.53 L1645.54,1123.43 L1649.26,1124.33 L1652.98,1125.23 L1656.70,1126.12 L1660.43,1127.01 L1664.15,1127.90 L1667.87,1128.79 L1671.59,1129.67 L1675.31,1130.55 L1679.03,1131.42 L1682.75,1132.29 L1686.47,1133.16 L1690.19,1134.03 L1693.91,1134.89 L1697.63,1135.75 L1701.35,1136.61 L1705.08,1137.46 L1708.80,1138.31 L1712.52,1139.16 L1716.24,1140.01 L1719.96,1140.85 L1723.68,1141.69 L1727.40,1142.53 L1731.12,1143.36 L1734.84,1144.19 L1738.56,1145.02 L1742.28,1145.84 L1746.00,1146.66 L1749.72,1147.48 L1753.45,1148.30 L1757.17,1149.11 L1760.89,1149.92 L1764.61,1150.73 L1768.33,1151.53 L1772.05,1152.34 L1775.77,1153.14 L1779.49,1153.93 L1783.21,1154.73 L1786.93,1155.52 L1790.65,1156.31 L1794.37,1157.09 L1798.10,1157.88 L1801.82,1158.66 L1805.54,1159.44 L1809.26,1160.21 L1812.98,1160.99 L1816.70,1161.76 L1820.42,1162.52 L1824.14,1163.29 L1827.86,1164.05 L1831.58,1164.81 L1835.30,1165.57 L1839.02,1166.33 L1842.74,1167.08 L1846.47,1167.83 L1850.19,1168.58 L1853.91,1169.32 L1857.63,1170.06 L1861.35,1170.81 L1865.07,1171.54 L1868.79,1172.28 L1872.51,1173.01 L1876.23,1173.74 L1879.95,1174.47 L1883.67,1175.20 L1887.39,1175.92 L1891.12,1176.64 L1894.84,1177.36 L1898.56,1178.08 L1902.28,1178.79 L1906.00,1179.51 L1909.72,1180.22 L1913.44,1180.92 L1917.16,1181.63 L1920.88,1182.33 L1924.60,1183.03 L1928.32,1183.73 L1932.04,1184.43 L1935.76,1185.12 L1939.49,1185.81 L1943.21,1186.50 L1946.93,1187.19 L1950.65,1187.88 L1954.37,1188.56 L1958.09,1189.24 L1961.81,1189.92 L1965.53,1190.60 L1969.25,1191.27 L1972.97,1191.95 L1976.69,1192.62 L1980.41,1193.28 L1984.14,1193.95 L1987.86,1194.62 L1991.58,1195.28 L1995.30,1195.94 L1999.02,1196.60 L2002.74,1197.25 L2006.46,1197.91 L2010.18,1198.56 L2013.90,1199.21 L2017.62,1199.86 L2021.34,1200.50 L2025.06,1201.15 L2028.78,1201.79 L2032.51,1202.43 L2036.23,1203.07 L2039.95,1203.71 L2043.67,1204.34 L2047.39,1204.97 L2051.11,1205.60 L2054.83,1206.23 L2058.55,1206.86 L2062.27,1207.48 L2065.99,1208.11 L2069.71,1208.73 L2073.43,1209.35 L2077.16,1209.97 L2080.88,1210.58 L2084.60,1211.20 L2088.32,1211.81 L2092.04,1212.42 L2095.76,1213.03 L2099.48,1213.63 L2103.20,1214.24 L2106.92,1214.84 L2110.64,1215.44 L2114.36,1216.04 L2118.08,1216.64 L2121.80,1217.23 L2125.53,1217.83 L2129.25,1218.42 L2132.97,1219.01 L2136.69,1219.60 L2140.41,1220.19 L2144.13,1220.77 L2147.85,1221.36 L2151.57,1221.94 L2155.29,1222.52 L2159.01,1223.10 L2162.73,1223.68 L2166.45,1224.25 L2170.18,1224.83 L2173.90,1225.40 L2177.62,1225.97 L2181.34,1226.54 L2185.06,1227.11 L2188.78,1227.67 L2192.50,1228.23" stroke="#9050AE"/>
<path d="M332.10,242.57 L332.57,243.26 L333.03,243.95 L333.50,244.64 L333.96,245.33 L334.43,246.01 L334.89,246.70 L335.36,247.38 L335.82,248.07 L336.29,248.75 L336.75,249.44 L337.22,250.12 L337.68,250.80 L338.15,251.48 L338.61,252.16 L339.08,252.84 L339.54,253.52 L340.01,254.20 L340.47,254.88 L340.94,255.56 L341.40,256.23 L341.87,256.91 L342.33,257.59 L342.80,258.26 L343.26,258.93 L343.73,259.61 L344.19,260.28 L344.66,260.95 L345.12,261.62 L345.59,262.29 L346.05,262.97 L346.52,263.63 L346.98,264.30 L347.45,264.97 L347.91,265.64 L348.38,266.31 L348.84,266.97 L349.31,267.64 L349.77,268.30 L350.24,268.97 L350.70,269.63 L351.17,270.29 L351.63,270.95 L352.10,271.62 L352.56,272.28 L353.03,272.94 L353.49,273.60 L353.96,274.26 L354.42,274.91 L354.89,275.57 L355.36,276.23 L355.82,276.89 L356.29,277.54 L356.75,278.20 L357.22,278.85 L357.68,279.50 L358.15,280.16 L358.61,280.81 L359.08,281.46 L359.54,282.11 L360.01,282.76 L360.47,283.41 L360.94,284.06 L361.40,284.71 L361.87,285.36 L362.33,286.01 L362.80,286.65 L363.26,287.30 L363.73,287.95 L364.19,288.59 L364.66,289.24 L365.12,289.88 L365.59,290.52 L366.05,291.17 L366.52,291.81 L366.98,292.45 L367.45,293.09 L367.91,293.73 L368.38,294.37 L368.84,295.01 L369.31,295.65 L370.24,296.92 L371.17,298.19 L372.10,299.46 L373.03,300.73 L373.96,301.99 L374.89,303.26 L375.82,304.52 L376.75,305.77 L377.68,307.03 L378.61,308.28 L379.54,309.53 L380.47,310.78 L381.40,312.03 L382.33,313.27 L383.26,314.51 L384.19,315.75 L385.12,316.99 L386.05,318.22 L386.98,319.45 L387.91,320.68 L388.84,321.91 L389.77,323.13 L390.70,324.36 L391.63,325.58 L392.56,326.79 L393.49,328.01 L394.42,329.22 L395.35,330.43 L396.28,331.64 L397.21,332.85 L398.14,334.05 L399.07,335.25 L400.00,336.45 L400.93,337.65 L401.87,338.85 L402.80,340.04 L403.73,341.23 L404.66,342.42 L405.59,343.60 L406.52,344.79 L407.45,345.97 L408.38,347.15 L409.31,348.33 L410.24,349.50 L411.17,350.68 L412.10,351.85 L413.03,353.02 L413.96,354.18 L414.89,355.35 L415.82,356.51 L416.75,357.67 L417.68,358.83 L418.61,359.99 L419.54,361.14 L420.47,362.29 L421.40,363.44 L422.33,364.59 L423.26,365.73 L424.19,366.88 L425.12,368.02 L426.05,369.16 L426.98,370.30 L427.91,371.43 L428.84,372.57 L429.77,373.70 L430.70,374.83 L431.63,375.95 L432.56,377.08 L433.49,378.20 L434.42,379.32 L435.35,380.44 L436.28,381.56 L437.21,382.67 L438.14,383.79 L439.07,384.90 L440.00,386.01 L440.93,387.11 L441.86,388.22 L442.79,389.32 L443.72,390.42 L444.65,391.52 L445.58,392.62 L446.51,393.71 L447.44,394.81 L448.38,395.90 L449.31,396.99 L450.24,398.07 L451.17,399.16 L452.10,400.24 L453.03,401.32 L453.96,402.40 L454.89,403.48 L455.82,404.56 L456.75,405.63 L457.68,406.70 L458.61,407.77 L459.54,408.84 L460.47,409.91 L461.40,410.97 L462.33,412.04 L463.26,413.10 L464.19,414.16 L465.12,415.21 L466.05,416.27 L466.98,417.32 L467.91,418.37 L468.84,419.42 L469.77,420.47 L470.70,421.52 L471.63,422.56 L472.56,423.61 L473.49,424.65 L474.42,425.68 L475.35,426.72 L476.28,427.76 L477.21,428.79 L478.14,429.82 L479.07,430.85 L480.00,431.88 L480.93,432.91 L481.86,433.93 L482.79,434.95 L483.72,435.98 L484.65,436.99 L485.58,438.01 L486.51,439.03 L487.44,440.04 L488.37,441.05 L489.30,442.07 L490.23,443.07 L491.16,444.08 L492.09,445.09 L493.02,446.09 L493.95,447.09 L494.88,448.09 L495.82,449.09 L496.75,450.09 L497.68,451.08 L498.61,452.08 L499.54,453.07 L500.47,454.06 L501.40,455.05 L502.33,456.04 L503.26,457.02 L504.19,458.00 L505.12,458.99 L506.05,459.97 L506.98,460.94 L507.91,461.92 L508.84,462.90 L509.77,463.87 L510.70,464.84 L511.63,465.81 L512.56,466.78 L513.49,467.75 L514.42,468.71 L515.35,469.68 L516.28,470.64 L517.21,471.60 L518.14,472.56 L521.86,476.38 L525.58,480.18 L529.30,483.95 L533.02,487.69 L536.74,491.41 L540.46,495.11 L544.19,498.78 L547.91,502.43 L551.63,506.05 L555.35,509.65 L559.07,513.23 L562.79,516.79 L566.51,520.32 L570.23,523.83 L573.95,527.32 L577.67,530.78 L581.39,534.23 L585.11,537.65 L588.84,541.05 L592.56,544.43 L596.28,547.79 L600.00,551.13 L603.72,554.44 L607.44,557.74 L611.16,561.02 L614.88,564.27 L618.60,567.51 L622.32,570.73 L626.04,573.92 L629.76,577.10 L633.48,580.26 L637.21,583.40 L640.93,586.52 L644.65,589.62 L648.37,592.70 L652.09,595.77 L655.81,598.81 L659.53,601.84 L663.25,604.85 L666.97,607.85 L670.69,610.82 L674.41,613.78 L678.13,616.72 L681.86,619.65 L685.58,622.55 L689.30,625.44 L693.02,628.32 L696.74,631.17 L700.46,634.01 L704.18,636.84 L707.90,639.65 L711.62,642.44 L715.34,645.21 L719.06,647.97 L722.78,650.72 L726.50,653.45 L730.23,656.16 L733.95,658.86 L737.67,661.55 L741.39,664.22 L745.11,666.87 L748.83,669.51 L752.55,672.14 L756.27,674.75 L759.99,677.34 L763.71,679.93 L767.43,682.49 L771.15,685.05 L774.88,687.59 L778.60,690.12 L782.32,692.63 L786.04,695.13 L789.76,697.62 L793.48,700.09 L797.20,702.55 L800.92,704.99 L804.64,707.43 L808.36,709.85 L812.08,712.26 L815.80,714.65 L819.52,717.04 L823.25,719.41 L826.97,721.76 L830.69,724.11 L834.41,726.44 L838.13,728.76 L841.85,731.07 L845.57,733.37 L849.29,735.66 L853.01,737.93 L856.73,740.19 L860.45,742.44 L864.17,744.68 L867.90,746.91 L871.62,749.13 L875.34,751.33 L879.06,753.53 L882.78,755.71 L886.50,757.88 L890.22,760.04 L893.94,762.20 L897.66,764.34 L901.38,766.47 L905.10,768.58 L908.82,770.69 L912.54,772.79 L916.27,774.88 L919.99,776.96 L923.71,779.02 L927.43,781.08 L931.15,783.13 L934.87,785.17 L938.59,787.19 L942.31,789.21 L946.03,791.22 L949.75,793.22 L953.47,795.21 L957.19,797.18 L960.92,799.15 L964.64,801.11 L968.36,803.07 L972.08,805.01 L975.80,806.94 L979.52,808.86 L983.24,810.78 L986.96,812.68 L990.68,814.58 L994.40,816.47 L998.12,818.35 L1001.84,820.22 L1005.56,822.08 L1009.29,823.93 L1013.01,825.77 L1016.73,827.61 L1020.45,829.44 L1024.17,831.26 L1027.89,833.07 L1031.61,834.87 L1035.33,836.66 L1039.05,838.45 L1042.77,840.23 L1046.49,842.00 L1050.21,843.76 L1053.94,845.51 L1057.66,847.26 L1061.38,849.00 L1065.10,850.73 L1068.82,852.45 L1072.54,854.17 L1076.26,855.87 L1079.98,857.57 L1083.70,859.27 L1087.42,860.95 L1091.14,862.63 L1094.86,864.30 L1098.58,865.96 L1102.31,867.62 L1106.03,869.26 L1109.75,870.91 L1113.47,872.54 L1117.19,874.17 L1120.91,875.79 L1124.63,877.40 L1128.35,879.00 L1132.07,880.60 L1135.79,882.20 L1139.51,883.78 L1143.23,885.36 L1146.96,886.93 L1150.68,888.50 L1154.40,890.05 L1158.12,891.61 L1161.84,893.15 L1165.56,894.69 L1169.28,896.22 L1173.00,897.75 L1176.72,899.27 L1180.44,900.78 L1184.16,902.29 L1187.88,903.79 L1191.60,905.28 L1195.33,906.77 L1199.05,908.25 L1202.77,909.73 L1206.49,911.20 L1210.21,912.66 L1213.93,914.12 L1217.65,915.57 L1221.37,917.02 L1225.09,918.46 L1228.81,919.89 L1232.53,921.32 L1236.25,922.74 L1239.98,924.16 L1243.70,925.57 L1247.42,926.97 L1251.14,928.37 L1254.86,929.77 L1258.58,931.15 L1262.30,932.54 L1266.02,933.91 L1269.74,935.28 L1273.46,936.65 L1277.18,938.01 L1280.90,939.37 L1284.62,940.72 L1288.35,942.06 L1292.07,943.40 L1295.79,944.74 L1299.51,946.06 L1303.23,947.39 L1306.95,948.71 L1310.67,950.02 L1314.39,951.33 L1318.11,952.63 L1321.83,953.93 L1325.55,955.22 L1329.27,956.51 L1333.00,957.79 L1336.72,959.07 L1340.44,960.35 L1344.16,961.61 L1347.88,962.88 L1351.60,964.14 L1355.32,965.39 L1359.04,966.64 L1362.76,967.89 L1366.48,969.12 L1370.20,970.36 L1373.92,971.59 L1377.64,972.82 L1381.37,974.04 L1385.09,975.25 L1388.81,976.47 L1392.53,977.67 L1396.25,978.88 L1399.97,980.08 L1403.69,981.27 L1407.41,982.46 L1411.13,983.64 L1414.85,984.83 L1418.57,986.00 L1422.29,987.17 L1426.02,988.34 L1429.74,989.51 L1433.46,990.66 L1437.18,991.82 L1440.90,992.97 L1444.62,994.12 L1448.34,995.26 L1452.06,996.40 L1455.78,997.53 L1459.50,998.66 L1463.22,999.79 L1466.94,1000.91 L1470.66,1002.03 L1474.39,1003.14 L1478.11,1004.25 L1481.83,1005.36 L1485.55,1006.46 L1489.27,1007.56 L1492.99,1008.65 L1496.71,1009.74 L1500.43,1010.83 L1504.15,1011.91 L1507.87,1012.99 L1511.59,1014.07 L1515.31,1015.14 L1519.04,1016.20 L1522.76,1017.27 L1526.48,1018.33 L1530.20,1019.38 L1533.92,1020.44 L1537.64,1021.49 L1541.36,1022.53 L1545.08,1023.57 L1548.80,1024.61 L1552.52,1025.65 L1556.24,1026.68 L1559.96,1027.70 L1563.68,1028.73 L1567.41,1029.75 L1571.13,1030.76 L1574.85,1031.78 L1578.57,1032.79 L1582.29,1033.79 L1586.01,1034.80 L1589.73,1035.80 L1593.45,1036.79 L1597.17,1037.78 L1600.89,1038.77 L1604.61,1039.76 L1608.33,1040.74 L1612.06,1041.72 L1615.78,1042.70 L1619.50,1043.67 L1623.22,1044.64 L1626.94,1045.61 L1630.66,1046.57 L1634.38,1047.53 L1638.10,1048.49 L1641.82,1049.44 L1645.54,1050.39 L1649.26,1051.34 L1652.98,1052.28 L1656.70,1053.22 L1660.43,1054.16 L1664.15,1055.10 L1667.87,1056.03 L1671.59,1056.96 L1675.31,1057.88 L1679.03,1058.80 L1682.75,1059.72 L1686.47,1060.64 L1690.19,1061.55 L1693.91,1062.46 L1697.63,1063.37 L1701.35,1064.28 L1705.08,1065.18 L1708.80,1066.08 L1712.52,1066.97 L1716.24,1067.87 L1719.96,1068.76 L1723.68,1069.64 L1727.40,1070.53 L1731.12,1071.41 L1734.84,1072.29 L1738.56,1073.17 L1742.28,1074.04 L1746.00,1074.91 L1749.72,1075.78 L1753.45,1076.64 L1757.17,1077.50 L1760.89,1078.36 L1764.61,1079.22 L1768.33,1080.08 L1772.05,1080.93 L1775.77,1081.78 L1779.49,1082.62 L1783.21,1083.47 L1786.93,1084.31 L1790.65,1085.14 L1794.37,1085.98 L1798.10,1086.81 L1801.82,1087.64 L1805.54,1088.47 L1809.26,1089.30 L1812.98,1090.12 L1816.70,1090.94 L1820.42,1091.76 L1824.14,1092.57 L1827.86,1093.39 L1831.58,1094.20 L1835.30,1095.00 L1839.02,1095.81 L1842.74,1096.61 L1846.47,1097.41 L1850.19,1098.21 L1853.91,1099.01 L1857.63,1099.80 L1861.35,1100.59 L1865.07,1101.38 L1868.79,1102.17 L1872.51,1102.95 L1876.23,1103.73 L1879.95,1104.51 L1883.67,1105.29 L1887.39,1106.06 L1891.12,1106.83 L1894.84,1107.60 L1898.56,1108.37 L1902.28,1109.13 L1906.00,1109.90 L1909.72,1110.66 L1913.44,1111.42 L1917.16,1112.17 L1920.88,1112.93 L1924.60,1113.68 L1928.32,1114.43 L1932.04,1115.17 L1935.76,1115.92 L1939.49,1116.66 L1943.21,1117.40 L1946.93,1118.14 L1950.65,1118.88 L1954.37,1119.61 L1958.09,1120.34 L1961.81,1121.07 L1965.53,1121.80 L1969.25,1122.53 L1972.97,1123.25 L1976.69,1123.97 L1980.41,1124.69 L1984.14,1125.41 L1987.86,1126.12 L1991.58,1126.84 L1995.30,1127.55 L1999.02,1128.26 L2002.74,1128.96 L2006.46,1129.67 L2010.18,1130.37 L2013.90,1131.07 L2017.62,1131.77 L2021.34,1132.47 L2025.06,1133.16 L2028.78,1133.86 L2032.51,1134.55 L2036.23,1135.24 L2039.95,1135.92 L2043.67,1136.61 L2047.39,1137.29 L2051.11,1137.97 L2054.83,1138.65 L2058.55,1139.33 L2062.27,1140.01 L2065.99,1140.68 L2069.71,1141.35 L2073.43,1142.02 L2077.16,1142.69 L2080.88,1143.36 L2084.60,1144.02 L2088.32,1144.69 L2092.04,1145.35 L2095.76,1146.01 L2099.48,1146.66 L2103.20,1147.32 L2106.92,1147.97 L2110.64,1148.62 L2114.36,1149.27 L2118.08,1149.92 L2121.80,1150.57 L2125.53,1151.21 L2129.25,1151.86 L2132.97,1152.50 L2136.69,1153.14 L2140.41,1153.77 L2144.13,1154.41 L2147.85,1155.04 L2151.57,1155.68 L2155.29,1156.31 L2159.01,1156.94 L2162.73,1157.56 L2166.45,1158.19 L2170.18,1158.81 L2173.90,1159.44 L2177.62,1160.06 L2181.34,1160.68 L2185.06,1161.29 L2188.78,1161.91 L2192.50,1162.52" stroke="#8FBB55"/>
<path d="M332.10,242.57 L332.57,243.15 L333.03,243.72 L333.50,244.29 L333.96,244.87 L334.43,245.44 L334.89,246.01 L335.36,246.59 L335.82,247.16 L336.29,247.73 L336.75,248.30 L337.22,248.87 L337.68,249.44 L338.15,250.01 L338.61,250.57 L339.08,251.14 L339.54,251.71 L340.01,252.28 L340.47,252.84 L340.94,253.41 L341.40,253.98 L341.87,254.54 L342.33,255.11 L342.80,255.67 L343.26,256.23 L343.73,256.80 L344.19,257.36 L344.66,257.92 L345.12,258.49 L345.59,259.05 L346.05,259.61 L346.52,260.17 L346.98,260.73 L347.45,261.29 L347.91,261.85 L348.38,262.41 L348.84,262.97 L349.31,263.52 L349.77,264.08 L350.24,264.64 L350.70,265.19 L351.17,265.75 L351.63,266.31 L352.10,266.86 L352.56,267.42 L353.03,267.97 L353.49,268.52 L353.96,269.08 L354.42,269.63 L354.89,270.18 L355.36,270.73 L355.82,271.29 L356.29,271.84 L356.75,272.39 L357.22,272.94 L357.68,273.49 L358.15,274.04 L358.61,274.58 L359.08,275.13 L359.54,275.68 L360.01,276.23 L360.47,276.78 L360.94,277.32 L361.40,277.87 L361.87,278.41 L362.33,278.96 L362.80,279.50 L363.26,280.05 L363.73,280.59 L364.19,281.14 L364.66,281.68 L365.12,282.22 L365.59,282.76 L366.05,283.31 L366.52,283.85 L366.98,284.39 L367.45,284.93 L367.91,285.47 L368.38,286.01 L368.84,286.55 L369.31,287.09 L370.24,288.16 L371.17,289.24 L372.10,290.31 L373.03,291.38 L373.96,292.45 L374.89,293.52 L375.82,294.58 L376.75,295.65 L377.68,296.71 L378.61,297.77 L379.54,298.83 L380.47,299.89 L381.40,300.94 L382.33,301.99 L383.26,303.05 L384.19,304.10 L385.12,305.15 L386.05,306.19 L386.98,307.24 L387.91,308.28 L388.84,309.33 L389.77,310.37 L390.70,311.40 L391.63,312.44 L392.56,313.48 L393.49,314.51 L394.42,315.54 L395.35,316.57 L396.28,317.60 L397.21,318.63 L398.14,319.66 L399.07,320.68 L400.00,321.70 L400.93,322.72 L401.87,323.74 L402.80,324.76 L403.73,325.78 L404.66,326.79 L405.59,327.81 L406.52,328.82 L407.45,329.83 L408.38,330.84 L409.31,331.84 L410.24,332.85 L411.17,333.85 L412.10,334.85 L413.03,335.85 L413.96,336.85 L414.89,337.85 L415.82,338.85 L416.75,339.84 L417.68,340.83 L418.61,341.82 L419.54,342.81 L420.47,343.80 L421.40,344.79 L422.33,345.77 L423.26,346.76 L424.19,347.74 L425.12,348.72 L426.05,349.70 L426.98,350.68 L427.91,351.65 L428.84,352.63 L429.77,353.60 L430.70,354.57 L431.63,355.54 L432.56,356.51 L433.49,357.48 L434.42,358.44 L435.35,359.41 L436.28,360.37 L437.21,361.33 L438.14,362.29 L439.07,363.25 L440.00,364.21 L440.93,365.16 L441.86,366.12 L442.79,367.07 L443.72,368.02 L444.65,368.97 L445.58,369.92 L446.51,370.86 L447.44,371.81 L448.38,372.75 L449.31,373.70 L450.24,374.64 L451.17,375.58 L452.10,376.52 L453.03,377.45 L453.96,378.39 L454.89,379.32 L455.82,380.25 L456.75,381.19 L457.68,382.12 L458.61,383.04 L459.54,383.97 L460.47,384.90 L461.40,385.82 L462.33,386.74 L463.26,387.67 L464.19,388.59 L465.12,389.50 L466.05,390.42 L466.98,391.34 L467.91,392.25 L468.84,393.17 L469.77,394.08 L470.70,394.99 L471.63,395.90 L472.56,396.81 L473.49,397.71 L474.42,398.62 L475.35,399.52 L476.28,400.42 L477.21,401.32 L478.14,402.22 L479.07,403.12 L480.00,404.02 L480.93,404.92 L481.86,405.81 L482.79,406.70 L483.72,407.60 L484.65,408.49 L485.58,409.38 L486.51,410.26 L487.44,411.15 L488.37,412.04 L489.30,412.92 L490.23,413.80 L491.16,414.69 L492.09,415.57 L493.02,416.44 L493.95,417.32 L494.88,418.20 L495.82,419.07 L496.75,419.95 L497.68,420.82 L498.61,421.69 L499.54,422.56 L500.47,423.43 L501.40,424.30 L502.33,425.17 L503.26,426.03 L504.19,426.89 L505.12,427.76 L506.05,428.62 L506.98,429.48 L507.91,430.34 L508.84,431.20 L509.77,432.05 L510.70,432.91 L511.63,433.76 L512.56,434.61 L513.49,435.47 L514.42,436.32 L515.35,437.16 L516.28,438.01 L517.21,438.86 L518.14,439.70 L521.86,443.07 L525.58,446.42 L529.30,449.76 L533.02,453.07 L536.74,456.36 L540.46,459.64 L544.19,462.90 L547.91,466.14 L551.63,469.36 L555.35,472.56 L559.07,475.75 L562.79,478.91 L566.51,482.06 L570.23,485.20 L573.95,488.31 L577.67,491.41 L581.39,494.49 L585.11,497.56 L588.84,500.61 L592.56,503.64 L596.28,506.66 L600.00,509.65 L603.72,512.64 L607.44,515.61 L611.16,518.56 L614.88,521.49 L618.60,524.41 L622.32,527.32 L626.04,530.21 L629.76,533.08 L633.48,535.94 L637.21,538.79 L640.93,541.62 L644.65,544.43 L648.37,547.23 L652.09,550.02 L655.81,552.79 L659.53,555.55 L663.25,558.29 L666.97,561.02 L670.69,563.73 L674.41,566.43 L678.13,569.12 L681.86,571.79 L685.58,574.45 L689.30,577.10 L693.02,579.73 L696.74,582.35 L700.46,584.96 L704.18,587.55 L707.90,590.13 L711.62,592.70 L715.34,595.26 L719.06,597.80 L722.78,600.33 L726.50,602.85 L730.23,605.35 L733.95,607.85 L737.67,610.33 L741.39,612.80 L745.11,615.25 L748.83,617.70 L752.55,620.13 L756.27,622.55 L759.99,624.96 L763.71,627.36 L767.43,629.75 L771.15,632.12 L774.88,634.48 L778.60,636.84 L782.32,639.18 L786.04,641.51 L789.76,643.83 L793.48,646.14 L797.20,648.43 L800.92,650.72 L804.64,653.00 L808.36,655.26 L812.08,657.52 L815.80,659.76 L819.52,661.99 L823.25,664.22 L826.97,666.43 L830.69,668.63 L834.41,670.83 L838.13,673.01 L841.85,675.18 L845.57,677.34 L849.29,679.50 L853.01,681.64 L856.73,683.77 L860.45,685.90 L864.17,688.01 L867.90,690.12 L871.62,692.21 L875.34,694.30 L879.06,696.37 L882.78,698.44 L886.50,700.50 L890.22,702.55 L893.94,704.59 L897.66,706.62 L901.38,708.64 L905.10,710.65 L908.82,712.66 L912.54,714.65 L916.27,716.64 L919.99,718.62 L923.71,720.59 L927.43,722.55 L931.15,724.50 L934.87,726.44 L938.59,728.38 L942.31,730.31 L946.03,732.22 L949.75,734.13 L953.47,736.04 L957.19,737.93 L960.92,739.82 L964.64,741.69 L968.36,743.56 L972.08,745.43 L975.80,747.28 L979.52,749.13 L983.24,750.97 L986.96,752.80 L990.68,754.62 L994.40,756.44 L998.12,758.24 L1001.84,760.04 L1005.56,761.84 L1009.29,763.62 L1013.01,765.40 L1016.73,767.17 L1020.45,768.94 L1024.17,770.69 L1027.89,772.44 L1031.61,774.18 L1035.33,775.92 L1039.05,777.65 L1042.77,779.37 L1046.49,781.08 L1050.21,782.79 L1053.94,784.49 L1057.66,786.18 L1061.38,787.87 L1065.10,789.55 L1068.82,791.22 L1072.54,792.88 L1076.26,794.54 L1079.98,796.20 L1083.70,797.84 L1087.42,799.48 L1091.14,801.11 L1094.86,802.74 L1098.58,804.36 L1102.31,805.97 L1106.03,807.58 L1109.75,809.18 L1113.47,810.78 L1117.19,812.37 L1120.91,813.95 L1124.63,815.52 L1128.35,817.09 L1132.07,818.66 L1135.79,820.22 L1139.51,821.77 L1143.23,823.31 L1146.96,824.85 L1150.68,826.39 L1154.40,827.92 L1158.12,829.44 L1161.84,830.95 L1165.56,832.46 L1169.28,833.97 L1173.00,835.47 L1176.72,836.96 L1180.44,838.45 L1184.16,839.93 L1187.88,841.41 L1191.60,842.88 L1195.33,844.35 L1199.05,845.81 L1202.77,847.26 L1206.49,848.71 L1210.21,850.15 L1213.93,851.59 L1217.65,853.02 L1221.37,854.45 L1225.09,855.87 L1228.81,857.29 L1232.53,858.70 L1236.25,860.11 L1239.98,861.51 L1243.70,862.91 L1247.42,864.30 L1251.14,865.68 L1254.86,867.06 L1258.58,868.44 L1262.30,869.81 L1266.02,871.18 L1269.74,872.54 L1273.46,873.90 L1277.18,875.25 L1280.90,876.59 L1284.62,877.93 L1288.35,879.27 L1292.07,880.60 L1295.79,881.93 L1299.51,883.25 L1303.23,884.57 L1306.95,885.88 L1310.67,887.19 L1314.39,888.50 L1318.11,889.79 L1321.83,891.09 L1325.55,892.38 L1329.27,893.66 L1333.00,894.95 L1336.72,896.22 L1340.44,897.49 L1344.16,898.76 L1347.88,900.02 L1351.60,901.28 L1355.32,902.54 L1359.04,903.79 L1362.76,905.03 L1366.48,906.27 L1370.20,907.51 L1373.92,908.74 L1377.64,909.97 L1381.37,911.20 L1385.09,912.42 L1388.81,913.63 L1392.53,914.84 L1396.25,916.05 L1399.97,917.26 L1403.69,918.46 L1407.41,919.65 L1411.13,920.84 L1414.85,922.03 L1418.57,923.21 L1422.29,924.39 L1426.02,925.57 L1429.74,926.74 L1433.46,927.91 L1437.18,929.07 L1440.90,930.23 L1444.62,931.38 L1448.34,932.54 L1452.06,933.68 L1455.78,934.83 L1459.50,935.97 L1463.22,937.11 L1466.94,938.24 L1470.66,939.37 L1474.39,940.49 L1478.11,941.61 L1481.83,942.73 L1485.55,943.85 L1489.27,944.96 L1492.99,946.06 L1496.71,947.17 L1500.43,948.27 L1504.15,949.36 L1507.87,950.46 L1511.59,951.55 L1515.31,952.63 L1519.04,953.71 L1522.76,954.79 L1526.48,955.87 L1530.20,956.94 L1533.92,958.01 L1537.64,959.07 L1541.36,960.13 L1545.08,961.19 L1548.80,962.25 L1552.52,963.30 L1556.24,964.35 L1559.96,965.39 L1563.68,966.43 L1567.41,967.47 L1571.13,968.51 L1574.85,969.54 L1578.57,970.57 L1582.29,971.59 L1586.01,972.61 L1589.73,973.63 L1593.45,974.65 L1597.17,975.66 L1600.89,976.67 L1604.61,977.67 L1608.33,978.68 L1612.06,979.68 L1615.78,980.67 L1619.50,981.67 L1623.22,982.66 L1626.94,983.64 L1630.66,984.63 L1634.38,985.61 L1638.10,986.59 L1641.82,987.56 L1645.54,988.54 L1649.26,989.51 L1652.98,990.47 L1656.70,991.44 L1660.43,992.40 L1664.15,993.35 L1667.87,994.31 L1671.59,995.26 L1675.31,996.21 L1679.03,997.15 L1682.75,998.10 L1686.47,999.04 L1690.19,999.98 L1693.91,1000.91 L1697.63,1001.84 L1701.35,1002.77 L1705.08,1003.70 L1708.80,1004.62 L1712.52,1005.54 L1716.24,1006.46 L1719.96,1007.38 L1723.68,1008.29 L1727.40,1009.20 L1731.12,1010.11 L1734.84,1011.01 L1738.56,1011.91 L1742.28,1012.81 L1746.00,1013.71 L1749.72,1014.60 L1753.45,1015.49 L1757.17,1016.38 L1760.89,1017.27 L1764.61,1018.15 L1768.33,1019.03 L1772.05,1019.91 L1775.77,1020.79 L1779.49,1021.66 L1783.21,1022.53 L1786.93,1023.40 L1790.65,1024.27 L1794.37,1025.13 L1798.10,1025.99 L1801.82,1026.85 L1805.54,1027.70 L1809.26,1028.56 L1812.98,1029.41 L1816.70,1030.26 L1820.42,1031.10 L1824.14,1031.95 L1827.86,1032.79 L1831.58,1033.63 L1835.30,1034.46 L1839.02,1035.30 L1842.74,1036.13 L1846.47,1036.96 L1850.19,1037.78 L1853.91,1038.61 L1857.63,1039.43 L1861.35,1040.25 L1865.07,1041.07 L1868.79,1041.89 L1872.51,1042.70 L1876.23,1043.51 L1879.95,1044.32 L1883.67,1045.12 L1887.39,1045.93 L1891.12,1046.73 L1894.84,1047.53 L1898.56,1048.33 L1902.28,1049.12 L1906.00,1049.92 L1909.72,1050.71 L1913.44,1051.50 L1917.16,1052.28 L1920.88,1053.07 L1924.60,1053.85 L1928.32,1054.63 L1932.04,1055.41 L1935.76,1056.18 L1939.49,1056.96 L1943.21,1057.73 L1946.93,1058.50 L1950.65,1059.26 L1954.37,1060.03 L1958.09,1060.79 L1961.81,1061.55 L1965.53,1062.31 L1969.25,1063.07 L1972.97,1063.82 L1976.69,1064.58 L1980.41,1065.33 L1984.14,1066.08 L1987.86,1066.82 L1991.58,1067.57 L1995.30,1068.31 L1999.02,1069.05 L2002.74,1069.79 L2006.46,1070.53 L2010.18,1071.26 L2013.90,1072.00 L2017.62,1072.73 L2021.34,1073.46 L2025.06,1074.18 L2028.78,1074.91 L2032.51,1075.63 L2036.23,1076.35 L2039.95,1077.07 L2043.67,1077.79 L2047.39,1078.51 L2051.11,1079.22 L2054.83,1079.93 L2058.55,1080.64 L2062.27,1081.35 L2065.99,1082.06 L2069.71,1082.76 L2073.43,1083.47 L2077.16,1084.17 L2080.88,1084.87 L2084.60,1085.56 L2088.32,1086.26 L2092.04,1086.95 L2095.76,1087.64 L2099.48,1088.33 L2103.20,1089.02 L2106.92,1089.71 L2110.64,1090.39 L2114.36,1091.08 L2118.08,1091.76 L2121.80,1092.44 L2125.53,1093.12 L2129.25,1093.79 L2132.97,1094.47 L2136.69,1095.14 L2140.41,1095.81 L2144.13,1096.48 L2147.85,1097.15 L2151.57,1097.81 L2155.29,1098.48 L2159.01,1099.14 L2162.73,1099.80 L2166.45,1100.46 L2170.18,1101.12 L2173.90,1101.77 L2177.62,1102.43 L2181.34,1103.08 L2185.06,1103.73 L2188.78,1104.38 L2192.50,1105.03" stroke="#56C1EF"/>
<path d="M332.10,242.57 L332.57,243.06 L333.03,243.56 L333.50,244.05 L333.96,244.54 L334.43,245.03 L334.89,245.52 L335.36,246.01 L335.82,246.50 L336.29,246.99 L336.75,247.48 L337.22,247.97 L337.68,248.46 L338.15,248.95 L338.61,249.44 L339.08,249.93 L339.54,250.41 L340.01,250.90 L340.47,251.39 L340.94,251.87 L341.40,252.36 L341.87,252.84 L342.33,253.33 L342.80,253.81 L343.26,254.30 L343.73,254.78 L344.19,255.27 L344.66,255.75 L345.12,256.23 L345.59,256.72 L346.05,257.20 L346.52,257.68 L346.98,258.16 L347.45,258.65 L347.91,259.13 L348.38,259.61 L348.84,260.09 L349.31,260.57 L349.77,261.05 L350.24,261.53 L350.70,262.01 L351.17,262.49 L351.63,262.97 L352.10,263.44 L352.56,263.92 L353.03,264.40 L353.49,264.88 L353.96,265.35 L354.42,265.83 L354.89,266.31 L355.36,266.78 L355.82,267.26 L356.29,267.73 L356.75,268.21 L357.22,268.68 L357.68,269.16 L358.15,269.63 L358.61,270.10 L359.08,270.58 L359.54,271.05 L360.01,271.52 L360.47,271.99 L360.94,272.47 L361.40,272.94 L361.87,273.41 L362.33,273.88 L362.80,274.35 L363.26,274.82 L363.73,275.29 L364.19,275.76 L364.66,276.23 L365.12,276.70 L365.59,277.17 L366.05,277.63 L366.52,278.10 L366.98,278.57 L367.45,279.04 L367.91,279.50 L368.38,279.97 L368.84,280.44 L369.31,280.90 L370.24,281.83 L371.17,282.76 L372.10,283.69 L373.03,284.62 L373.96,285.55 L374.89,286.47 L375.82,287.39 L376.75,288.32 L377.68,289.24 L378.61,290.16 L379.54,291.07 L380.47,291.99 L381.40,292.91 L382.33,293.82 L383.26,294.73 L384.19,295.65 L385.12,296.56 L386.05,297.47 L386.98,298.37 L387.91,299.28 L388.84,300.19 L389.77,301.09 L390.70,301.99 L391.63,302.90 L392.56,303.80 L393.49,304.70 L394.42,305.60 L395.35,306.49 L396.28,307.39 L397.21,308.28 L398.14,309.18 L399.07,310.07 L400.00,310.96 L400.93,311.85 L401.87,312.74 L402.80,313.63 L403.73,314.51 L404.66,315.40 L405.59,316.28 L406.52,317.16 L407.45,318.04 L408.38,318.92 L409.31,319.80 L410.24,320.68 L411.17,321.56 L412.10,322.43 L413.03,323.31 L413.96,324.18 L414.89,325.05 L415.82,325.92 L416.75,326.79 L417.68,327.66 L418.61,328.53 L419.54,329.39 L420.47,330.26 L421.40,331.12 L422.33,331.99 L423.26,332.85 L424.19,333.71 L425.12,334.57 L426.05,335.43 L426.98,336.28 L427.91,337.14 L428.84,337.99 L429.77,338.85 L430.70,339.70 L431.63,340.55 L432.56,341.40 L433.49,342.25 L434.42,343.10 L435.35,343.94 L436.28,344.79 L437.21,345.63 L438.14,346.48 L439.07,347.32 L440.00,348.16 L440.93,349.00 L441.86,349.84 L442.79,350.68 L443.72,351.51 L444.65,352.35 L445.58,353.18 L446.51,354.02 L447.44,354.85 L448.38,355.68 L449.31,356.51 L450.24,357.34 L451.17,358.17 L452.10,358.99 L453.03,359.82 L453.96,360.65 L454.89,361.47 L455.82,362.29 L456.75,363.11 L457.68,363.93 L458.61,364.75 L459.54,365.57 L460.47,366.39 L461.40,367.20 L462.33,368.02 L463.26,368.83 L464.19,369.65 L465.12,370.46 L466.05,371.27 L466.98,372.08 L467.91,372.89 L468.84,373.70 L469.77,374.50 L470.70,375.31 L471.63,376.11 L472.56,376.92 L473.49,377.72 L474.42,378.52 L475.35,379.32 L476.28,380.12 L477.21,380.92 L478.14,381.72 L479.07,382.51 L480.00,383.31 L480.93,384.10 L481.86,384.90 L482.79,385.69 L483.72,386.48 L484.65,387.27 L485.58,388.06 L486.51,388.85 L487.44,389.64 L488.37,390.42 L489.30,391.21 L490.23,391.99 L491.16,392.77 L492.09,393.56 L493.02,394.34 L493.95,395.12 L494.88,395.90 L495.82,396.68 L496.75,397.45 L497.68,398.23 L498.61,399.00 L499.54,399.78 L500.47,400.55 L501.40,401.32 L502.33,402.10 L503.26,402.87 L504.19,403.64 L505.12,404.40 L506.05,405.17 L506.98,405.94 L507.91,406.70 L508.84,407.47 L509.77,408.23 L510.70,409.00 L511.63,409.76 L512.56,410.52 L513.49,411.28 L514.42,412.04 L515.35,412.79 L516.28,413.55 L517.21,414.31 L518.14,415.06 L521.86,418.07 L525.58,421.07 L529.30,424.05 L533.02,427.02 L536.74,429.97 L540.46,432.91 L544.19,435.83 L547.91,438.74 L551.63,441.63 L555.35,444.51 L559.07,447.38 L562.79,450.23 L566.51,453.07 L570.23,455.89 L573.95,458.71 L577.67,461.50 L581.39,464.29 L585.11,467.06 L588.84,469.82 L592.56,472.56 L596.28,475.29 L600.00,478.01 L603.72,480.72 L607.44,483.41 L611.16,486.09 L614.88,488.76 L618.60,491.41 L622.32,494.05 L626.04,496.68 L629.76,499.30 L633.48,501.91 L637.21,504.50 L640.93,507.08 L644.65,509.65 L648.37,512.21 L652.09,514.76 L655.81,517.29 L659.53,519.82 L663.25,522.33 L666.97,524.83 L670.69,527.32 L674.41,529.80 L678.13,532.26 L681.86,534.72 L685.58,537.16 L689.30,539.60 L693.02,542.02 L696.74,544.43 L700.46,546.83 L704.18,549.22 L707.90,551.60 L711.62,553.97 L715.34,556.33 L719.06,558.68 L722.78,561.02 L726.50,563.34 L730.23,565.66 L733.95,567.97 L737.67,570.27 L741.39,572.55 L745.11,574.83 L748.83,577.10 L752.55,579.36 L756.27,581.61 L759.99,583.84 L763.71,586.07 L767.43,588.29 L771.15,590.50 L774.88,592.70 L778.60,594.89 L782.32,597.08 L786.04,599.25 L789.76,601.41 L793.48,603.57 L797.20,605.71 L800.92,607.85 L804.64,609.97 L808.36,612.09 L812.08,614.20 L815.80,616.30 L819.52,618.39 L823.25,620.48 L826.97,622.55 L830.69,624.62 L834.41,626.68 L838.13,628.72 L841.85,630.77 L845.57,632.80 L849.29,634.82 L853.01,636.84 L856.73,638.84 L860.45,640.84 L864.17,642.84 L867.90,644.82 L871.62,646.79 L875.34,648.76 L879.06,650.72 L882.78,652.67 L886.50,654.61 L890.22,656.55 L893.94,658.48 L897.66,660.40 L901.38,662.31 L905.10,664.22 L908.82,666.11 L912.54,668.00 L916.27,669.89 L919.99,671.76 L923.71,673.63 L927.43,675.49 L931.15,677.34 L934.87,679.19 L938.59,681.03 L942.31,682.86 L946.03,684.68 L949.75,686.50 L953.47,688.31 L957.19,690.12 L960.92,691.91 L964.64,693.70 L968.36,695.49 L972.08,697.26 L975.80,699.03 L979.52,700.79 L983.24,702.55 L986.96,704.30 L990.68,706.04 L994.40,707.77 L998.12,709.50 L1001.84,711.23 L1005.56,712.94 L1009.29,714.65 L1013.01,716.36 L1016.73,718.05 L1020.45,719.74 L1024.17,721.43 L1027.89,723.11 L1031.61,724.78 L1035.33,726.44 L1039.05,728.10 L1042.77,729.76 L1046.49,731.40 L1050.21,733.04 L1053.94,734.68 L1057.66,736.31 L1061.38,737.93 L1065.10,739.55 L1068.82,741.16 L1072.54,742.76 L1076.26,744.36 L1079.98,745.96 L1083.70,747.55 L1087.42,749.13 L1091.14,750.70 L1094.86,752.28 L1098.58,753.84 L1102.31,755.40 L1106.03,756.95 L1109.75,758.50 L1113.47,760.04 L1117.19,761.58 L1120.91,763.11 L1124.63,764.64 L1128.35,766.16 L1132.07,767.68 L1135.79,769.19 L1139.51,770.69 L1143.23,772.19 L1146.96,773.69 L1150.68,775.18 L1154.40,776.66 L1158.12,778.14 L1161.84,779.61 L1165.56,781.08 L1169.28,782.54 L1173.00,784.00 L1176.72,785.46 L1180.44,786.90 L1184.16,788.35 L1187.88,789.78 L1191.60,791.22 L1195.33,792.65 L1199.05,794.07 L1202.77,795.49 L1206.49,796.90 L1210.21,798.31 L1213.93,799.71 L1217.65,801.11 L1221.37,802.51 L1225.09,803.90 L1228.81,805.28 L1232.53,806.66 L1236.25,808.04 L1239.98,809.41 L1243.70,810.78 L1247.42,812.14 L1251.14,813.50 L1254.86,814.85 L1258.58,816.20 L1262.30,817.54 L1266.02,818.88 L1269.74,820.22 L1273.46,821.55 L1277.18,822.87 L1280.90,824.19 L1284.62,825.51 L1288.35,826.82 L1292.07,828.13 L1295.79,829.44 L1299.51,830.74 L1303.23,832.03 L1306.95,833.33 L1310.67,834.61 L1314.39,835.90 L1318.11,837.18 L1321.83,838.45 L1325.55,839.72 L1329.27,840.99 L1333.00,842.25 L1336.72,843.51 L1340.44,844.76 L1344.16,846.01 L1347.88,847.26 L1351.60,848.50 L1355.32,849.74 L1359.04,850.97 L1362.76,852.21 L1366.48,853.43 L1370.20,854.65 L1373.92,855.87 L1377.64,857.09 L1381.37,858.30 L1385.09,859.51 L1388.81,860.71 L1392.53,861.91 L1396.25,863.11 L1399.97,864.30 L1403.69,865.49 L1407.41,866.67 L1411.13,867.85 L1414.85,869.03 L1418.57,870.20 L1422.29,871.37 L1426.02,872.54 L1429.74,873.70 L1433.46,874.86 L1437.18,876.02 L1440.90,877.17 L1444.62,878.32 L1448.34,879.46 L1452.06,880.60 L1455.78,881.74 L1459.50,882.88 L1463.22,884.01 L1466.94,885.13 L1470.66,886.26 L1474.39,887.38 L1478.11,888.50 L1481.83,889.61 L1485.55,890.72 L1489.27,891.83 L1492.99,892.93 L1496.71,894.03 L1500.43,895.13 L1504.15,896.22 L1507.87,897.31 L1511.59,898.40 L1515.31,899.48 L1519.04,900.56 L1522.76,901.64 L1526.48,902.72 L1530.20,903.79 L1533.92,904.86 L1537.64,905.92 L1541.36,906.98 L1545.08,908.04 L1548.80,909.10 L1552.52,910.15 L1556.24,911.20 L1559.96,912.24 L1563.68,913.29 L1567.41,914.33 L1571.13,915.36 L1574.85,916.40 L1578.57,917.43 L1582.29,918.46 L1586.01,919.48 L1589.73,920.50 L1593.45,921.52 L1597.17,922.54 L1600.89,923.55 L1604.61,924.56 L1608.33,925.57 L1612.06,926.57 L1615.78,927.57 L1619.50,928.57 L1623.22,929.57 L1626.94,930.56 L1630.66,931.55 L1634.38,932.54 L1638.10,933.52 L1641.82,934.50 L1645.54,935.48 L1649.26,936.46 L1652.98,937.43 L1656.70,938.40 L1660.43,939.37 L1664.15,940.33 L1667.87,941.29 L1671.59,942.25 L1675.31,943.21 L1679.03,944.16 L1682.75,945.12 L1686.47,946.06 L1690.19,947.01 L1693.91,947.95 L1697.63,948.89 L1701.35,949.83 L1705.08,950.77 L1708.80,951.70 L1712.52,952.63 L1716.24,953.56 L1719.96,954.49 L1723.68,955.41 L1727.40,956.33 L1731.12,957.25 L1734.84,958.16 L1738.56,959.07 L1742.28,959.98 L1746.00,960.89 L1749.72,961.80 L1753.45,962.70 L1757.17,963.60 L1760.89,964.50 L1764.61,965.39 L1768.33,966.28 L1772.05,967.17 L1775.77,968.06 L1779.49,968.95 L1783.21,969.83 L1786.93,970.71 L1790.65,971.59 L1794.37,972.47 L1798.10,973.34 L1801.82,974.21 L1805.54,975.08 L1809.26,975.95 L1812.98,976.81 L1816.70,977.67 L1820.42,978.53 L1824.14,979.39 L1827.86,980.25 L1831.58,981.10 L1835.30,981.95 L1839.02,982.80 L1842.74,983.64 L1846.47,984.49 L1850.19,985.33 L1853.91,986.17 L1857.63,987.01 L1861.35,987.84 L1865.07,988.67 L1868.79,989.51 L1872.51,990.33 L1876.23,991.16 L1879.95,991.98 L1883.67,992.81 L1887.39,993.63 L1891.12,994.44 L1894.84,995.26 L1898.56,996.07 L1902.28,996.88 L1906.00,997.69 L1909.72,998.50 L1913.44,999.31 L1917.16,1000.11 L1920.88,1000.91 L1924.60,1001.71 L1928.32,1002.51 L1932.04,1003.30 L1935.76,1004.09 L1939.49,1004.89 L1943.21,1005.67 L1946.93,1006.46 L1950.65,1007.25 L1954.37,1008.03 L1958.09,1008.81 L1961.81,1009.59 L1965.53,1010.36 L1969.25,1011.14 L1972.97,1011.91 L1976.69,1012.68 L1980.41,1013.45 L1984.14,1014.22 L1987.86,1014.98 L1991.58,1015.75 L1995.30,1016.51 L1999.02,1017.27 L2002.74,1018.03 L2006.46,1018.78 L2010.18,1019.54 L2013.90,1020.29 L2017.62,1021.04 L2021.34,1021.79 L2025.06,1022.53 L2028.78,1023.28 L2032.51,1024.02 L2036.23,1024.76 L2039.95,1025.50 L2043.67,1026.23 L2047.39,1026.97 L2051.11,1027.70 L2054.83,1028.44 L2058.55,1029.16 L2062.27,1029.89 L2065.99,1030.62 L2069.71,1031.34 L2073.43,1032.07 L2077.16,1032.79 L2080.88,1033.51 L2084.60,1034.22 L2088.32,1034.94 L2092.04,1035.65 L2095.76,1036.37 L2099.48,1037.08 L2103.20,1037.78 L2106.92,1038.49 L2110.64,1039.20 L2114.36,1039.90 L2118.08,1040.60 L2121.80,1041.30 L2125.53,1042.00 L2129.25,1042.70 L2132.97,1043.39 L2136.69,1044.09 L2140.41,1044.78 L2144.13,1045.47 L2147.85,1046.16 L2151.57,1046.84 L2155.29,1047.53 L2159.01,1048.21 L2162.73,1048.90 L2166.45,1049.58 L2170.18,1050.25 L2173.90,1050.93 L2177.62,1051.61 L2181.34,1052.28 L2185.06,1052.95 L2188.78,1053.63 L2192.50,1054.29" stroke="#B0374E"/>
<path d="M332.10,242.57 L332.57,243.00 L333.03,243.43 L333.50,243.86 L333.96,244.29 L334.43,244.72 L334.89,245.15 L335.36,245.58 L335.82,246.01 L336.29,246.44 L336.75,246.87 L337.22,247.30 L337.68,247.73 L338.15,248.16 L338.61,248.58 L339.08,249.01 L339.54,249.44 L340.01,249.86 L340.47,250.29 L340.94,250.72 L341.40,251.14 L341.87,251.57 L342.33,251.99 L342.80,252.42 L343.26,252.84 L343.73,253.27 L344.19,253.69 L344.66,254.12 L345.12,254.54 L345.59,254.97 L346.05,255.39 L346.52,255.81 L346.98,256.23 L347.45,256.66 L347.91,257.08 L348.38,257.50 L348.84,257.92 L349.31,258.35 L349.77,258.77 L350.24,259.19 L350.70,259.61 L351.17,260.03 L351.63,260.45 L352.10,260.87 L352.56,261.29 L353.03,261.71 L353.49,262.13 L353.96,262.55 L354.42,262.97 L354.89,263.38 L355.36,263.80 L355.82,264.22 L356.29,264.64 L356.75,265.05 L357.22,265.47 L357.68,265.89 L358.15,266.31 L358.61,266.72 L359.08,267.14 L359.54,267.55 L360.01,267.97 L360.47,268.38 L360.94,268.80 L361.40,269.21 L361.87,269.63 L362.33,270.04 L362.80,270.46 L363.26,270.87 L363.73,271.29 L364.19,271.70 L364.66,272.11 L365.12,272.52 L365.59,272.94 L366.05,273.35 L366.52,273.76 L366.98,274.17 L367.45,274.58 L367.91,275.00 L368.38,275.41 L368.84,275.82 L369.31,276.23 L370.24,277.05 L371.17,277.87 L372.10,278.69 L373.03,279.50 L373.96,280.32 L374.89,281.14 L375.82,281.95 L376.75,282.76 L377.68,283.58 L378.61,284.39 L379.54,285.20 L380.47,286.01 L381.40,286.82 L382.33,287.62 L383.26,288.43 L384.19,289.24 L385.12,290.04 L386.05,290.84 L386.98,291.65 L387.91,292.45 L388.84,293.25 L389.77,294.05 L390.70,294.85 L391.63,295.65 L392.56,296.44 L393.49,297.24 L394.42,298.03 L395.35,298.83 L396.28,299.62 L397.21,300.41 L398.14,301.20 L399.07,301.99 L400.00,302.78 L400.93,303.57 L401.87,304.36 L402.80,305.15 L403.73,305.93 L404.66,306.72 L405.59,307.50 L406.52,308.28 L407.45,309.06 L408.38,309.85 L409.31,310.63 L410.24,311.40 L411.17,312.18 L412.10,312.96 L413.03,313.74 L413.96,314.51 L414.89,315.29 L415.82,316.06 L416.75,316.83 L417.68,317.60 L418.61,318.37 L419.54,319.14 L420.47,319.91 L421.40,320.68 L422.33,321.45 L423.26,322.21 L424.19,322.98 L425.12,323.74 L426.05,324.51 L426.98,325.27 L427.91,326.03 L428.84,326.79 L429.77,327.55 L430.70,328.31 L431.63,329.07 L432.56,329.83 L433.49,330.58 L434.42,331.34 L435.35,332.09 L436.28,332.85 L437.21,333.60 L438.14,334.35 L439.07,335.10 L440.00,335.85 L440.93,336.60 L441.86,337.35 L442.79,338.10 L443.72,338.85 L444.65,339.59 L445.58,340.34 L446.51,341.08 L447.44,341.82 L448.38,342.57 L449.31,343.31 L450.24,344.05 L451.17,344.79 L452.10,345.53 L453.03,346.27 L453.96,347.00 L454.89,347.74 L455.82,348.48 L456.75,349.21 L457.68,349.94 L458.61,350.68 L459.54,351.41 L460.47,352.14 L461.40,352.87 L462.33,353.60 L463.26,354.33 L464.19,355.06 L465.12,355.78 L466.05,356.51 L466.98,357.24 L467.91,357.96 L468.84,358.69 L469.77,359.41 L470.70,360.13 L471.63,360.85 L472.56,361.57 L473.49,362.29 L474.42,363.01 L475.35,363.73 L476.28,364.45 L477.21,365.16 L478.14,365.88 L479.07,366.59 L480.00,367.31 L480.93,368.02 L481.86,368.73 L482.79,369.44 L483.72,370.15 L484.65,370.86 L485.58,371.57 L486.51,372.28 L487.44,372.99 L488.37,373.70 L489.30,374.40 L490.23,375.11 L491.16,375.81 L492.09,376.52 L493.02,377.22 L493.95,377.92 L494.88,378.62 L495.82,379.32 L496.75,380.02 L497.68,380.72 L498.61,381.42 L499.54,382.12 L500.47,382.81 L501.40,383.51 L502.33,384.20 L503.26,384.90 L504.19,385.59 L505.12,386.28 L506.05,386.97 L506.98,387.67 L507.91,388.36 L508.84,389.04 L509.77,389.73 L510.70,390.42 L511.63,391.11 L512.56,391.79 L513.49,392.48 L514.42,393.17 L515.35,393.85 L516.28,394.53 L517.21,395.22 L518.14,395.90 L521.86,398.62 L525.58,401.32 L529.30,404.02 L533.02,406.70 L536.74,409.38 L540.46,412.04 L544.19,414.69 L547.91,417.32 L551.63,419.95 L555.35,422.56 L559.07,425.17 L562.79,427.76 L566.51,430.34 L570.23,432.91 L573.95,435.47 L577.67,438.01 L581.39,440.55 L585.11,443.07 L588.84,445.59 L592.56,448.09 L596.28,450.59 L600.00,453.07 L603.72,455.54 L607.44,458.00 L611.16,460.46 L614.88,462.90 L618.60,465.33 L622.32,467.75 L626.04,470.16 L629.76,472.56 L633.48,474.95 L637.21,477.33 L640.93,479.70 L644.65,482.06 L648.37,484.42 L652.09,486.76 L655.81,489.09 L659.53,491.41 L663.25,493.72 L666.97,496.03 L670.69,498.32 L674.41,500.61 L678.13,502.88 L681.86,505.15 L685.58,507.41 L689.30,509.65 L693.02,511.89 L696.74,514.12 L700.46,516.35 L704.18,518.56 L707.90,520.76 L711.62,522.96 L715.34,525.14 L719.06,527.32 L722.78,529.49 L726.50,531.65 L730.23,533.80 L733.95,535.94 L737.67,538.08 L741.39,540.20 L745.11,542.32 L748.83,544.43 L752.55,546.53 L756.27,548.63 L759.99,550.71 L763.71,552.79 L767.43,554.86 L771.15,556.92 L774.88,558.97 L778.60,561.02 L782.32,563.05 L786.04,565.08 L789.76,567.11 L793.48,569.12 L797.20,571.13 L800.92,573.13 L804.64,575.12 L808.36,577.10 L812.08,579.08 L815.80,581.04 L819.52,583.01 L823.25,584.96 L826.97,586.91 L830.69,588.85 L834.41,590.78 L838.13,592.70 L841.85,594.62 L845.57,596.53 L849.29,598.43 L853.01,600.33 L856.73,602.22 L860.45,604.10 L864.17,605.98 L867.90,607.85 L871.62,609.71 L875.34,611.56 L879.06,613.41 L882.78,615.25 L886.50,617.09 L890.22,618.92 L893.94,620.74 L897.66,622.55 L901.38,624.36 L905.10,626.16 L908.82,627.96 L912.54,629.75 L916.27,631.53 L919.99,633.30 L923.71,635.07 L927.43,636.84 L931.15,638.59 L934.87,640.34 L938.59,642.09 L942.31,643.83 L946.03,645.56 L949.75,647.29 L953.47,649.01 L957.19,650.72 L960.92,652.43 L964.64,654.13 L968.36,655.83 L972.08,657.52 L975.80,659.20 L979.52,660.88 L983.24,662.55 L986.96,664.22 L990.68,665.88 L994.40,667.53 L998.12,669.18 L1001.84,670.83 L1005.56,672.46 L1009.29,674.10 L1013.01,675.72 L1016.73,677.34 L1020.45,678.96 L1024.17,680.57 L1027.89,682.17 L1031.61,683.77 L1035.33,685.37 L1039.05,686.96 L1042.77,688.54 L1046.49,690.12 L1050.21,691.69 L1053.94,693.26 L1057.66,694.82 L1061.38,696.37 L1065.10,697.93 L1068.82,699.47 L1072.54,701.01 L1076.26,702.55 L1079.98,704.08 L1083.70,705.60 L1087.42,707.12 L1091.14,708.64 L1094.86,710.15 L1098.58,711.66 L1102.31,713.16 L1106.03,714.65 L1109.75,716.14 L1113.47,717.63 L1117.19,719.11 L1120.91,720.59 L1124.63,722.06 L1128.35,723.52 L1132.07,724.99 L1135.79,726.44 L1139.51,727.90 L1143.23,729.34 L1146.96,730.79 L1150.68,732.22 L1154.40,733.66 L1158.12,735.09 L1161.84,736.51 L1165.56,737.93 L1169.28,739.35 L1173.00,740.76 L1176.72,742.16 L1180.44,743.56 L1184.16,744.96 L1187.88,746.36 L1191.60,747.74 L1195.33,749.13 L1199.05,750.51 L1202.77,751.88 L1206.49,753.25 L1210.21,754.62 L1213.93,755.98 L1217.65,757.34 L1221.37,758.70 L1225.09,760.04 L1228.81,761.39 L1232.53,762.73 L1236.25,764.07 L1239.98,765.40 L1243.70,766.73 L1247.42,768.06 L1251.14,769.38 L1254.86,770.69 L1258.58,772.01 L1262.30,773.31 L1266.02,774.62 L1269.74,775.92 L1273.46,777.21 L1277.18,778.51 L1280.90,779.80 L1284.62,781.08 L1288.35,782.36 L1292.07,783.64 L1295.79,784.91 L1299.51,786.18 L1303.23,787.45 L1306.95,788.71 L1310.67,789.96 L1314.39,791.22 L1318.11,792.47 L1321.83,793.71 L1325.55,794.96 L1329.27,796.20 L1333.00,797.43 L1336.72,798.66 L1340.44,799.89 L1344.16,801.11 L1347.88,802.33 L1351.60,803.55 L1355.32,804.76 L1359.04,805.97 L1362.76,807.18 L1366.48,808.38 L1370.20,809.58 L1373.92,810.78 L1377.64,811.97 L1381.37,813.16 L1385.09,814.34 L1388.81,815.52 L1392.53,816.70 L1396.25,817.88 L1399.97,819.05 L1403.69,820.22 L1407.41,821.38 L1411.13,822.54 L1414.85,823.70 L1418.57,824.85 L1422.29,826.00 L1426.02,827.15 L1429.74,828.30 L1433.46,829.44 L1437.18,830.58 L1440.90,831.71 L1444.62,832.84 L1448.34,833.97 L1452.06,835.09 L1455.78,836.22 L1459.50,837.33 L1463.22,838.45 L1466.94,839.56 L1470.66,840.67 L1474.39,841.78 L1478.11,842.88 L1481.83,843.98 L1485.55,845.08 L1489.27,846.17 L1492.99,847.26 L1496.71,848.35 L1500.43,849.43 L1504.15,850.51 L1507.87,851.59 L1511.59,852.67 L1515.31,853.74 L1519.04,854.81 L1522.76,855.87 L1526.48,856.94 L1530.20,858.00 L1533.92,859.05 L1537.64,860.11 L1541.36,861.16 L1545.08,862.21 L1548.80,863.25 L1552.52,864.30 L1556.24,865.34 L1559.96,866.38 L1563.68,867.41 L1567.41,868.44 L1571.13,869.47 L1574.85,870.50 L1578.57,871.52 L1582.29,872.54 L1586.01,873.56 L1589.73,874.57 L1593.45,875.58 L1597.17,876.59 L1600.89,877.60 L1604.61,878.60 L1608.33,879.60 L1612.06,880.60 L1615.78,881.60 L1619.50,882.59 L1623.22,883.58 L1626.94,884.57 L1630.66,885.56 L1634.38,886.54 L1638.10,887.52 L1641.82,888.50 L1645.54,889.47 L1649.26,890.44 L1652.98,891.41 L1656.70,892.38 L1660.43,893.34 L1664.15,894.31 L1667.87,895.27 L1671.59,896.22 L1675.31,897.18 L1679.03,898.13 L1682.75,899.08 L1686.47,900.02 L1690.19,900.97 L1693.91,901.91 L1697.63,902.85 L1701.35,903.79 L1705.08,904.72 L1708.80,905.65 L1712.52,906.58 L1716.24,907.51 L1719.96,908.44 L1723.68,909.36 L1727.40,910.28 L1731.12,911.20 L1734.84,912.11 L1738.56,913.03 L1742.28,913.94 L1746.00,914.84 L1749.72,915.75 L1753.45,916.65 L1757.17,917.56 L1760.89,918.46 L1764.61,919.35 L1768.33,920.25 L1772.05,921.14 L1775.77,922.03 L1779.49,922.92 L1783.21,923.80 L1786.93,924.69 L1790.65,925.57 L1794.37,926.45 L1798.10,927.32 L1801.82,928.20 L1805.54,929.07 L1809.26,929.94 L1812.98,930.81 L1816.70,931.67 L1820.42,932.54 L1824.14,933.40 L1827.86,934.26 L1831.58,935.11 L1835.30,935.97 L1839.02,936.82 L1842.74,937.67 L1846.47,938.52 L1850.19,939.37 L1853.91,940.21 L1857.63,941.05 L1861.35,941.89 L1865.07,942.73 L1868.79,943.57 L1872.51,944.40 L1876.23,945.23 L1879.95,946.06 L1883.67,946.89 L1887.39,947.72 L1891.12,948.54 L1894.84,949.36 L1898.56,950.18 L1902.28,951.00 L1906.00,951.82 L1909.72,952.63 L1913.44,953.44 L1917.16,954.25 L1920.88,955.06 L1924.60,955.87 L1928.32,956.67 L1932.04,957.47 L1935.76,958.27 L1939.49,959.07 L1943.21,959.87 L1946.93,960.66 L1950.65,961.46 L1954.37,962.25 L1958.09,963.04 L1961.81,963.82 L1965.53,964.61 L1969.25,965.39 L1972.97,966.17 L1976.69,966.95 L1980.41,967.73 L1984.14,968.51 L1987.86,969.28 L1991.58,970.05 L1995.30,970.82 L1999.02,971.59 L2002.74,972.36 L2006.46,973.12 L2010.18,973.89 L2013.90,974.65 L2017.62,975.41 L2021.34,976.16 L2025.06,976.92 L2028.78,977.67 L2032.51,978.43 L2036.23,979.18 L2039.95,979.93 L2043.67,980.67 L2047.39,981.42 L2051.11,982.16 L2054.83,982.90 L2058.55,983.64 L2062.27,984.38 L2065.99,985.12 L2069.71,985.86 L2073.43,986.59 L2077.16,987.32 L2080.88,988.05 L2084.60,988.78 L2088.32,989.51 L2092.04,990.23 L2095.76,990.95 L2099.48,991.68 L2103.20,992.40 L2106.92,993.11 L2110.64,993.83 L2114.36,994.55 L2118.08,995.26 L2121.80,995.97 L2125.53,996.68 L2129.25,997.39 L2132.97,998.10 L2136.69,998.80 L2140.41,999.51 L2144.13,1000.21 L2147.85,1000.91 L2151.57,1001.61 L2155.29,1002.31 L2159.01,1003.00 L2162.73,1003.70 L2166.45,1004.39 L2170.18,1005.08 L2173.90,1005.77 L2177.62,1006.46 L2181.34,1007.15 L2185.06,1007.83 L2188.78,1008.52 L2192.50,1009.20" stroke="#1F83C5"/>
<path d="M332.10,242.57 L332.57,242.96 L333.03,243.34 L333.50,243.72 L333.96,244.10 L334.43,244.49 L334.89,244.87 L335.36,245.25 L335.82,245.63 L336.29,246.01 L336.75,246.39 L337.22,246.78 L337.68,247.16 L338.15,247.54 L338.61,247.92 L339.08,248.30 L339.54,248.68 L340.01,249.06 L340.47,249.44 L340.94,249.82 L341.40,250.20 L341.87,250.57 L342.33,250.95 L342.80,251.33 L343.26,251.71 L343.73,252.09 L344.19,252.47 L344.66,252.84 L345.12,253.22 L345.59,253.60 L346.05,253.98 L346.52,254.35 L346.98,254.73 L347.45,255.11 L347.91,255.48 L348.38,255.86 L348.84,256.23 L349.31,256.61 L349.77,256.99 L350.24,257.36 L350.70,257.74 L351.17,258.11 L351.63,258.49 L352.10,258.86 L352.56,259.23 L353.03,259.61 L353.49,259.98 L353.96,260.36 L354.42,260.73 L354.89,261.10 L355.36,261.48 L355.82,261.85 L356.29,262.22 L356.75,262.59 L357.22,262.97 L357.68,263.34 L358.15,263.71 L358.61,264.08 L359.08,264.45 L359.54,264.82 L360.01,265.19 L360.47,265.56 L360.94,265.94 L361.40,266.31 L361.87,266.68 L362.33,267.05 L362.80,267.42 L363.26,267.78 L363.73,268.15 L364.19,268.52 L364.66,268.89 L365.12,269.26 L365.59,269.63 L366.05,270.00 L366.52,270.37 L366.98,270.73 L367.45,271.10 L367.91,271.47 L368.38,271.84 L368.84,272.20 L369.31,272.57 L370.24,273.30 L371.17,274.04 L372.10,274.77 L373.03,275.50 L373.96,276.23 L374.89,276.96 L375.82,277.69 L376.75,278.41 L377.68,279.14 L378.61,279.87 L379.54,280.59 L380.47,281.32 L381.40,282.04 L382.33,282.76 L383.26,283.49 L384.19,284.21 L385.12,284.93 L386.05,285.65 L386.98,286.37 L387.91,287.09 L388.84,287.80 L389.77,288.52 L390.70,289.24 L391.63,289.95 L392.56,290.67 L393.49,291.38 L394.42,292.09 L395.35,292.80 L396.28,293.52 L397.21,294.23 L398.14,294.94 L399.07,295.65 L400.00,296.35 L400.93,297.06 L401.87,297.77 L402.80,298.48 L403.73,299.18 L404.66,299.89 L405.59,300.59 L406.52,301.29 L407.45,301.99 L408.38,302.70 L409.31,303.40 L410.24,304.10 L411.17,304.80 L412.10,305.50 L413.03,306.19 L413.96,306.89 L414.89,307.59 L415.82,308.28 L416.75,308.98 L417.68,309.67 L418.61,310.37 L419.54,311.06 L420.47,311.75 L421.40,312.44 L422.33,313.13 L423.26,313.82 L424.19,314.51 L425.12,315.20 L426.05,315.89 L426.98,316.57 L427.91,317.26 L428.84,317.95 L429.77,318.63 L430.70,319.32 L431.63,320.00 L432.56,320.68 L433.49,321.36 L434.42,322.04 L435.35,322.72 L436.28,323.40 L437.21,324.08 L438.14,324.76 L439.07,325.44 L440.00,326.12 L440.93,326.79 L441.86,327.47 L442.79,328.14 L443.72,328.82 L444.65,329.49 L445.58,330.16 L446.51,330.84 L447.44,331.51 L448.38,332.18 L449.31,332.85 L450.24,333.52 L451.17,334.19 L452.10,334.85 L453.03,335.52 L453.96,336.19 L454.89,336.85 L455.82,337.52 L456.75,338.18 L457.68,338.85 L458.61,339.51 L459.54,340.17 L460.47,340.83 L461.40,341.49 L462.33,342.15 L463.26,342.81 L464.19,343.47 L465.12,344.13 L466.05,344.79 L466.98,345.45 L467.91,346.10 L468.84,346.76 L469.77,347.41 L470.70,348.07 L471.63,348.72 L472.56,349.37 L473.49,350.03 L474.42,350.68 L475.35,351.33 L476.28,351.98 L477.21,352.63 L478.14,353.28 L479.07,353.92 L480.00,354.57 L480.93,355.22 L481.86,355.87 L482.79,356.51 L483.72,357.16 L484.65,357.80 L485.58,358.44 L486.51,359.09 L487.44,359.73 L488.37,360.37 L489.30,361.01 L490.23,361.65 L491.16,362.29 L492.09,362.93 L493.02,363.57 L493.95,364.21 L494.88,364.84 L495.82,365.48 L496.75,366.12 L497.68,366.75 L498.61,367.39 L499.54,368.02 L500.47,368.65 L501.40,369.29 L502.33,369.92 L503.26,370.55 L504.19,371.18 L505.12,371.81 L506.05,372.44 L506.98,373.07 L507.91,373.70 L508.84,374.32 L509.77,374.95 L510.70,375.58 L511.63,376.20 L512.56,376.83 L513.49,377.45 L514.42,378.08 L515.35,378.70 L516.28,379.32 L517.21,379.94 L518.14,380.56 L521.86,383.04 L525.58,385.51 L529.30,387.97 L533.02,390.42 L536.74,392.86 L540.46,395.29 L544.19,397.71 L547.91,400.12 L551.63,402.52 L555.35,404.92 L559.07,407.30 L562.79,409.67 L566.51,412.04 L570.23,414.39 L573.95,416.74 L577.67,419.07 L581.39,421.40 L585.11,423.72 L588.84,426.03 L592.56,428.33 L596.28,430.62 L600.00,432.91 L603.72,435.18 L607.44,437.45 L611.16,439.70 L614.88,441.95 L618.60,444.19 L622.32,446.42 L626.04,448.65 L629.76,450.86 L633.48,453.07 L637.21,455.27 L640.93,457.46 L644.65,459.64 L648.37,461.81 L652.09,463.98 L655.81,466.14 L659.53,468.29 L663.25,470.43 L666.97,472.56 L670.69,474.69 L674.41,476.80 L678.13,478.91 L681.86,481.02 L685.58,483.11 L689.30,485.20 L693.02,487.28 L696.74,489.35 L700.46,491.41 L704.18,493.47 L707.90,495.52 L711.62,497.56 L715.34,499.59 L719.06,501.62 L722.78,503.64 L726.50,505.65 L730.23,507.66 L733.95,509.65 L737.67,511.65 L741.39,513.63 L745.11,515.61 L748.83,517.58 L752.55,519.54 L756.27,521.49 L759.99,523.44 L763.71,525.38 L767.43,527.32 L771.15,529.25 L774.88,531.17 L778.60,533.08 L782.32,534.99 L786.04,536.89 L789.76,538.79 L793.48,540.67 L797.20,542.56 L800.92,544.43 L804.64,546.30 L808.36,548.16 L812.08,550.02 L815.80,551.87 L819.52,553.71 L823.25,555.55 L826.97,557.38 L830.69,559.20 L834.41,561.02 L838.13,562.83 L841.85,564.63 L845.57,566.43 L849.29,568.23 L853.01,570.01 L856.73,571.79 L860.45,573.57 L864.17,575.34 L867.90,577.10 L871.62,578.86 L875.34,580.61 L879.06,582.35 L882.78,584.09 L886.50,585.83 L890.22,587.55 L893.94,589.28 L897.66,590.99 L901.38,592.70 L905.10,594.41 L908.82,596.11 L912.54,597.80 L916.27,599.49 L919.99,601.17 L923.71,602.85 L927.43,604.52 L931.15,606.19 L934.87,607.85 L938.59,609.50 L942.31,611.15 L946.03,612.80 L949.75,614.44 L953.47,616.07 L957.19,617.70 L960.92,619.32 L964.64,620.94 L968.36,622.55 L972.08,624.16 L975.80,625.76 L979.52,627.36 L983.24,628.95 L986.96,630.54 L990.68,632.12 L994.40,633.70 L998.12,635.27 L1001.84,636.84 L1005.56,638.40 L1009.29,639.96 L1013.01,641.51 L1016.73,643.06 L1020.45,644.60 L1024.17,646.14 L1027.89,647.67 L1031.61,649.20 L1035.33,650.72 L1039.05,652.24 L1042.77,653.75 L1046.49,655.26 L1050.21,656.77 L1053.94,658.26 L1057.66,659.76 L1061.38,661.25 L1065.10,662.74 L1068.82,664.22 L1072.54,665.69 L1076.26,667.17 L1079.98,668.63 L1083.70,670.10 L1087.42,671.55 L1091.14,673.01 L1094.86,674.46 L1098.58,675.90 L1102.31,677.34 L1106.03,678.78 L1109.75,680.21 L1113.47,681.64 L1117.19,683.06 L1120.91,684.48 L1124.63,685.90 L1128.35,687.31 L1132.07,688.71 L1135.79,690.12 L1139.51,691.51 L1143.23,692.91 L1146.96,694.30 L1150.68,695.68 L1154.40,697.06 L1158.12,698.44 L1161.84,699.81 L1165.56,701.18 L1169.28,702.55 L1173.00,703.91 L1176.72,705.27 L1180.44,706.62 L1184.16,707.97 L1187.88,709.31 L1191.60,710.65 L1195.33,711.99 L1199.05,713.32 L1202.77,714.65 L1206.49,715.98 L1210.21,717.30 L1213.93,718.62 L1217.65,719.93 L1221.37,721.24 L1225.09,722.55 L1228.81,723.85 L1232.53,725.15 L1236.25,726.44 L1239.98,727.73 L1243.70,729.02 L1247.42,730.31 L1251.14,731.59 L1254.86,732.86 L1258.58,734.13 L1262.30,735.40 L1266.02,736.67 L1269.74,737.93 L1273.46,739.19 L1277.18,740.44 L1280.90,741.69 L1284.62,742.94 L1288.35,744.19 L1292.07,745.43 L1295.79,746.66 L1299.51,747.90 L1303.23,749.13 L1306.95,750.35 L1310.67,751.58 L1314.39,752.80 L1318.11,754.01 L1321.83,755.23 L1325.55,756.44 L1329.27,757.64 L1333.00,758.85 L1336.72,760.04 L1340.44,761.24 L1344.16,762.43 L1347.88,763.62 L1351.60,764.81 L1355.32,765.99 L1359.04,767.17 L1362.76,768.35 L1366.48,769.52 L1370.20,770.69 L1373.92,771.86 L1377.64,773.02 L1381.37,774.18 L1385.09,775.34 L1388.81,776.50 L1392.53,777.65 L1396.25,778.79 L1399.97,779.94 L1403.69,781.08 L1407.41,782.22 L1411.13,783.35 L1414.85,784.49 L1418.57,785.62 L1422.29,786.74 L1426.02,787.87 L1429.74,788.99 L1433.46,790.10 L1437.18,791.22 L1440.90,792.33 L1444.62,793.44 L1448.34,794.54 L1452.06,795.65 L1455.78,796.75 L1459.50,797.84 L1463.22,798.94 L1466.94,800.03 L1470.66,801.11 L1474.39,802.20 L1478.11,803.28 L1481.83,804.36 L1485.55,805.44 L1489.27,806.51 L1492.99,807.58 L1496.71,808.65 L1500.43,809.72 L1504.15,810.78 L1507.87,811.84 L1511.59,812.89 L1515.31,813.95 L1519.04,815.00 L1522.76,816.05 L1526.48,817.09 L1530.20,818.14 L1533.92,819.18 L1537.64,820.22 L1541.36,821.25 L1545.08,822.28 L1548.80,823.31 L1552.52,824.34 L1556.24,825.37 L1559.96,826.39 L1563.68,827.41 L1567.41,828.42 L1571.13,829.44 L1574.85,830.45 L1578.57,831.46 L1582.29,832.46 L1586.01,833.47 L1589.73,834.47 L1593.45,835.47 L1597.17,836.47 L1600.89,837.46 L1604.61,838.45 L1608.33,839.44 L1612.06,840.42 L1615.78,841.41 L1619.50,842.39 L1623.22,843.37 L1626.94,844.35 L1630.66,845.32 L1634.38,846.29 L1638.10,847.26 L1641.82,848.23 L1645.54,849.19 L1649.26,850.15 L1652.98,851.11 L1656.70,852.07 L1660.43,853.02 L1664.15,853.98 L1667.87,854.93 L1671.59,855.87 L1675.31,856.82 L1679.03,857.76 L1682.75,858.70 L1686.47,859.64 L1690.19,860.58 L1693.91,861.51 L1697.63,862.44 L1701.35,863.37 L1705.08,864.30 L1708.80,865.22 L1712.52,866.14 L1716.24,867.06 L1719.96,867.98 L1723.68,868.90 L1727.40,869.81 L1731.12,870.72 L1734.84,871.63 L1738.56,872.54 L1742.28,873.44 L1746.00,874.35 L1749.72,875.25 L1753.45,876.14 L1757.17,877.04 L1760.89,877.93 L1764.61,878.83 L1768.33,879.72 L1772.05,880.60 L1775.77,881.49 L1779.49,882.37 L1783.21,883.25 L1786.93,884.13 L1790.65,885.01 L1794.37,885.88 L1798.10,886.76 L1801.82,887.63 L1805.54,888.50 L1809.26,889.36 L1812.98,890.23 L1816.70,891.09 L1820.42,891.95 L1824.14,892.81 L1827.86,893.66 L1831.58,894.52 L1835.30,895.37 L1839.02,896.22 L1842.74,897.07 L1846.47,897.92 L1850.19,898.76 L1853.91,899.60 L1857.63,900.44 L1861.35,901.28 L1865.07,902.12 L1868.79,902.95 L1872.51,903.79 L1876.23,904.62 L1879.95,905.45 L1883.67,906.27 L1887.39,907.10 L1891.12,907.92 L1894.84,908.74 L1898.56,909.56 L1902.28,910.38 L1906.00,911.20 L1909.72,912.01 L1913.44,912.82 L1917.16,913.63 L1920.88,914.44 L1924.60,915.25 L1928.32,916.05 L1932.04,916.85 L1935.76,917.66 L1939.49,918.46 L1943.21,919.25 L1946.93,920.05 L1950.65,920.84 L1954.37,921.63 L1958.09,922.42 L1961.81,923.21 L1965.53,924.00 L1969.25,924.78 L1972.97,925.57 L1976.69,926.35 L1980.41,927.13 L1984.14,927.91 L1987.86,928.68 L1991.58,929.46 L1995.30,930.23 L1999.02,931.00 L2002.74,931.77 L2006.46,932.54 L2010.18,933.30 L2013.90,934.07 L2017.62,934.83 L2021.34,935.59 L2025.06,936.35 L2028.78,937.11 L2032.51,937.86 L2036.23,938.61 L2039.95,939.37 L2043.67,940.12 L2047.39,940.87 L2051.11,941.61 L2054.83,942.36 L2058.55,943.10 L2062.27,943.85 L2065.99,944.59 L2069.71,945.33 L2073.43,946.06 L2077.16,946.80 L2080.88,947.54 L2084.60,948.27 L2088.32,949.00 L2092.04,949.73 L2095.76,950.46 L2099.48,951.18 L2103.20,951.91 L2106.92,952.63 L2110.64,953.35 L2114.36,954.07 L2118.08,954.79 L2121.80,955.51 L2125.53,956.23 L2129.25,956.94 L2132.97,957.65 L2136.69,958.36 L2140.41,959.07 L2144.13,959.78 L2147.85,960.49 L2151.57,961.19 L2155.29,961.90 L2159.01,962.60 L2162.73,963.30 L2166.45,964.00 L2170.18,964.70 L2173.90,965.39 L2177.62,966.09 L2181.34,966.78 L2185.06,967.47 L2188.78,968.16 L2192.50,968.85" stroke="#DF6D3C"/>
</g></g>
<g stroke="#333333" stroke-width="2.8">
<line x1="518.1" y1="1604" x2="518.1" y2="1620"/>
<line x1="518.1" y1="158" x2="518.1" y2="176.5"/>
<line x1="703.2" y1="1604" x2="703.2" y2="1620"/>
<line x1="703.2" y1="158" x2="703.2" y2="176.5"/>
<line x1="888.5" y1="1604" x2="888.5" y2="1620"/>
<line x1="888.5" y1="158" x2="888.5" y2="176.5"/>
<line x1="1076.9" y1="1604" x2="1076.9" y2="1620"/>
<line x1="1076.9" y1="158" x2="1076.9" y2="176.5"/>
<line x1="1262.0" y1="1604" x2="1262.0" y2="1620"/>
<line x1="1262.0" y1="158" x2="1262.0" y2="176.5"/>
<line x1="1447.4" y1="1604" x2="1447.4" y2="1620"/>
<line x1="1447.4" y1="158" x2="1447.4" y2="176.5"/>
<line x1="1635.9" y1="1604" x2="1635.9" y2="1620"/>
<line x1="1635.9" y1="158" x2="1635.9" y2="176.5"/>
<line x1="1821.2" y1="1604" x2="1821.2" y2="1620"/>
<line x1="1821.2" y1="158" x2="1821.2" y2="176.5"/>
<line x1="2006.1" y1="1604" x2="2006.1" y2="1620"/>
<line x1="2006.1" y1="158" x2="2006.1" y2="176.5"/>
<line x1="335" y1="1413.4" x2="350" y2="1413.4"/>
<line x1="2173" y1="1413.4" x2="2192" y2="1413.4"/>
<line x1="335" y1="1204.3" x2="350" y2="1204.3"/>
<line x1="2173" y1="1204.3" x2="2192" y2="1204.3"/>
<line x1="335" y1="995.3" x2="350" y2="995.3"/>
<line x1="2173" y1="995.3" x2="2192" y2="995.3"/>
<line x1="335" y1="786.2" x2="350" y2="786.2"/>
<line x1="2173" y1="786.2" x2="2192" y2="786.2"/>
<line x1="335" y1="577.1" x2="350" y2="577.1"/>
<line x1="2173" y1="577.1" x2="2192" y2="577.1"/>
<line x1="335" y1="368.0" x2="350" y2="368.0"/>
<line x1="2173" y1="368.0" x2="2192" y2="368.0"/>
</g>
<g fill="#0d0d0d">
<rect x="332" y="153" width="1869" height="8.8"/>
<rect x="332" y="1617.3" width="1869" height="7.4"/>
<rect x="332" y="153" width="9.6" height="1471.7"/>
<rect x="2189" y="153" width="12" height="1471.7"/>
</g>
<rect x="1471.6" y="217.2" width="661.6" height="646.8" fill="#ffffff" stroke="#4f4f4f" stroke-width="3.7"/>
<g stroke-width="3.3" filter="url(#soft)">
<line x1="1483.5" y1="257.5" x2="1658" y2="257.5" stroke="#3A80B5"/>
<line x1="1483.5" y1="329.9" x2="1658" y2="329.9" stroke="#CF6E4C"/>
<line x1="1483.5" y1="397.7" x2="1658" y2="397.7" stroke="#EDBE4C"/>
<line x1="1483.5" y1="470.5" x2="1658" y2="470.5" stroke="#8E5C9E"/>
<line x1="1483.5" y1="542.9" x2="1658" y2="542.9" stroke="#88B652"/>
<line x1="1483.5" y1="610.5" x2="1658" y2="610.5" stroke="#6CC0E2"/>
<line x1="1483.5" y1="682.9" x2="1658" y2="682.9" stroke="#9A4458"/>
<line x1="1483.5" y1="755.2" x2="1658" y2="755.2" stroke="#3A80B5"/>
<line x1="1483.5" y1="822.9" x2="1658" y2="822.9" stroke="#CF6E4C"/>
</g>
<text transform="translate(1680.8,276.6) " class="lg" textLength="443.3" lengthAdjust="spacingAndGlyphs">RLoad = 100 Ohms</text>
<text transform="translate(1680.8,347.2) " class="lg" textLength="443.3" lengthAdjust="spacingAndGlyphs">RLoad = 200 Ohms</text>
<text transform="translate(1680.8,417.8) " class="lg" textLength="443.3" lengthAdjust="spacingAndGlyphs">RLoad = 300 Ohms</text>
<text transform="translate(1680.8,488.4) " class="lg" textLength="443.3" lengthAdjust="spacingAndGlyphs">RLoad = 400 Ohms</text>
<text transform="translate(1680.8,559.0) " class="lg" textLength="443.3" lengthAdjust="spacingAndGlyphs">RLoad = 500 Ohms</text>
<text transform="translate(1680.8,629.6) " class="lg" textLength="443.3" lengthAdjust="spacingAndGlyphs">RLoad = 600 Ohms</text>
<text transform="translate(1680.8,700.2) " class="lg" textLength="443.3" lengthAdjust="spacingAndGlyphs">RLoad = 700 Ohms</text>
<text transform="translate(1680.8,770.8) " class="lg" textLength="443.3" lengthAdjust="spacingAndGlyphs">RLoad = 800 Ohms</text>
<text transform="translate(1680.8,841.4) " class="lg" textLength="443.3" lengthAdjust="spacingAndGlyphs">RLoad = 900 Ohms</text>
<g class="tk">
<text x="331.8" y="1703.8" text-anchor="middle">0</text><text x="519.2" y="1703.8" text-anchor="middle">100</text><text x="706.1" y="1703.8" text-anchor="middle">200</text><text x="893.2" y="1703.8" text-anchor="middle">300</text><text x="1074.3" y="1703.8" text-anchor="middle">400</text><text x="1264.4" y="1703.8" text-anchor="middle">500</text><text x="1455.4" y="1703.8" text-anchor="middle">600</text><text x="1631.9" y="1703.8" text-anchor="middle">700</text><text x="1821.9" y="1703.8" text-anchor="middle">800</text><text x="2010.2" y="1703.8" text-anchor="middle">900</text><text x="2184.5" y="1703.8" text-anchor="middle">1000</text>
<text x="303.8" y="1652.3" text-anchor="end">0</text><text x="307.9" y="1442.8" text-anchor="end">0.5</text><text x="305.1" y="1233.0" text-anchor="end">1</text><text x="307.9" y="1020.3" text-anchor="end">1.5</text><text x="303.4" y="808.7" text-anchor="end">2</text><text x="307.8" y="599.5" text-anchor="end">2.5</text><text x="306.3" y="389.8" text-anchor="end">3</text><text x="307.9" y="181.6" text-anchor="end">3.5</text>
</g>
<text class="lab" transform="translate(1209.2,1784.9) " text-anchor="middle" textLength="548.4" lengthAdjust="spacingAndGlyphs">Velostat Resistance</text>
<text class="lab" transform="translate(159.8,877.1) rotate(-90)" text-anchor="middle" textLength="351.9" lengthAdjust="spacingAndGlyphs">ADC Voltage</text>
</svg>
</body></html>
